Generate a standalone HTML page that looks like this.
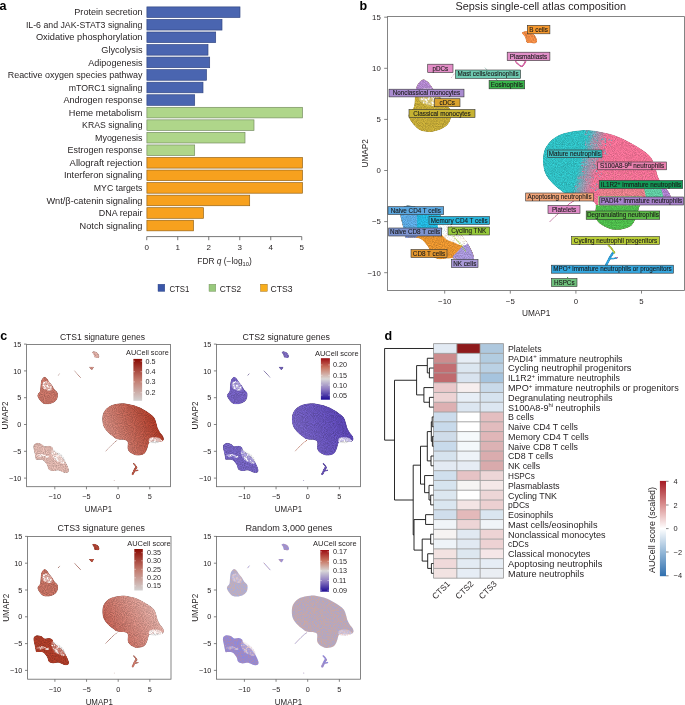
<!DOCTYPE html>
<html><head><meta charset="utf-8"><style>
html,body{margin:0;padding:0;background:#fff;}
svg{display:block;font-family:"Liberation Sans", sans-serif;will-change:transform;}
</style></head><body>
<svg width="685" height="705" viewBox="0 0 685 705">
<rect width="685" height="705" fill="#fff"/>
<defs><filter id="rbn" x="0" y="0" width="1" height="1" color-interpolation-filters="sRGB"><feTurbulence type="fractalNoise" baseFrequency="1.3" numOctaves="1" seed="9" result="n"/><feColorMatrix in="n" type="matrix" values="1.27 0 0 0 -0.134  0 0 0 0 0.25  -1.67 0 0 0 1.274  0 0 0 0 0.28" result="c"/><feComposite in="c" in2="SourceGraphic" operator="in" result="ci"/><feMerge><feMergeNode in="SourceGraphic"/><feMergeNode in="ci"/></feMerge></filter></defs>
<defs><filter id="grain" x="0" y="0" width="1" height="1" color-interpolation-filters="sRGB"><feTurbulence type="fractalNoise" baseFrequency="1.1" numOctaves="1" seed="5" result="n"/><feColorMatrix in="n" type="matrix" values="1 0 0 0 0  1 0 0 0 0  1 0 0 0 0  0 0 0 0 1" result="g"/><feComposite in="SourceGraphic" in2="g" operator="arithmetic" k1="0.55" k2="0.73" k3="0" k4="0" result="m"/><feComposite in="m" in2="SourceGraphic" operator="in"/></filter></defs>
<text x="-0.6" y="9.8" font-size="12.5" text-anchor="start" font-weight="bold" fill="#000" >a</text>
<rect x="146.9" y="6.9" width="93.1" height="10.6" fill="#4a65b0" stroke="#2f4480" stroke-width="0.65"/>
<text x="142.5" y="15.3" font-size="9" text-anchor="end" font-weight="normal" fill="#231f20" textLength="68.2" lengthAdjust="spacingAndGlyphs" >Protein secretion</text>
<rect x="146.9" y="19.45" width="75.1" height="10.6" fill="#4a65b0" stroke="#2f4480" stroke-width="0.65"/>
<text x="142.5" y="27.85" font-size="9" text-anchor="end" font-weight="normal" fill="#231f20" textLength="116.6" lengthAdjust="spacingAndGlyphs" >IL-6 and JAK-STAT3 signaling</text>
<rect x="146.9" y="32" width="68.8" height="10.6" fill="#4a65b0" stroke="#2f4480" stroke-width="0.65"/>
<text x="142.5" y="40.4" font-size="9" text-anchor="end" font-weight="normal" fill="#231f20" textLength="106.6" lengthAdjust="spacingAndGlyphs" >Oxidative phosphorylation</text>
<rect x="146.9" y="44.55" width="61.1" height="10.6" fill="#4a65b0" stroke="#2f4480" stroke-width="0.65"/>
<text x="142.5" y="52.95" font-size="9" text-anchor="end" font-weight="normal" fill="#231f20" textLength="41.2" lengthAdjust="spacingAndGlyphs" >Glycolysis</text>
<rect x="146.9" y="57.1" width="62.8" height="10.6" fill="#4a65b0" stroke="#2f4480" stroke-width="0.65"/>
<text x="142.5" y="65.5" font-size="9" text-anchor="end" font-weight="normal" fill="#231f20" textLength="54.2" lengthAdjust="spacingAndGlyphs" >Adipogenesis</text>
<rect x="146.9" y="69.65" width="59.6" height="10.6" fill="#4a65b0" stroke="#2f4480" stroke-width="0.65"/>
<text x="142.5" y="78.05" font-size="9" text-anchor="end" font-weight="normal" fill="#231f20" textLength="134.8" lengthAdjust="spacingAndGlyphs" >Reactive oxygen species pathway</text>
<rect x="146.9" y="82.2" width="56.1" height="10.6" fill="#4a65b0" stroke="#2f4480" stroke-width="0.65"/>
<text x="142.5" y="90.6" font-size="9" text-anchor="end" font-weight="normal" fill="#231f20" textLength="73.7" lengthAdjust="spacingAndGlyphs" >mTORC1 signaling</text>
<rect x="146.9" y="94.75" width="47.8" height="10.6" fill="#4a65b0" stroke="#2f4480" stroke-width="0.65"/>
<text x="142.5" y="103.15" font-size="9" text-anchor="end" font-weight="normal" fill="#231f20" textLength="79.1" lengthAdjust="spacingAndGlyphs" >Androgen response</text>
<rect x="146.9" y="107.3" width="155.6" height="10.6" fill="#afd68a" stroke="#71895c" stroke-width="0.65"/>
<text x="142.5" y="115.7" font-size="9" text-anchor="end" font-weight="normal" fill="#231f20" textLength="73.7" lengthAdjust="spacingAndGlyphs" >Heme metabolism</text>
<rect x="146.9" y="119.85" width="107.1" height="10.6" fill="#afd68a" stroke="#71895c" stroke-width="0.65"/>
<text x="142.5" y="128.25" font-size="9" text-anchor="end" font-weight="normal" fill="#231f20" textLength="60.4" lengthAdjust="spacingAndGlyphs" >KRAS signaling</text>
<rect x="146.9" y="132.4" width="98.1" height="10.6" fill="#afd68a" stroke="#71895c" stroke-width="0.65"/>
<text x="142.5" y="140.8" font-size="9" text-anchor="end" font-weight="normal" fill="#231f20" textLength="47.4" lengthAdjust="spacingAndGlyphs" >Myogenesis</text>
<rect x="146.9" y="144.95" width="47.8" height="10.6" fill="#afd68a" stroke="#71895c" stroke-width="0.65"/>
<text x="142.5" y="153.35" font-size="9" text-anchor="end" font-weight="normal" fill="#231f20" textLength="74.9" lengthAdjust="spacingAndGlyphs" >Estrogen response</text>
<rect x="146.9" y="157.5" width="155.6" height="10.6" fill="#f7a11e" stroke="#8f5e12" stroke-width="0.65"/>
<text x="142.5" y="165.9" font-size="9" text-anchor="end" font-weight="normal" fill="#231f20" textLength="72.9" lengthAdjust="spacingAndGlyphs" >Allograft rejection</text>
<rect x="146.9" y="170.05" width="155.6" height="10.6" fill="#f7a11e" stroke="#8f5e12" stroke-width="0.65"/>
<text x="142.5" y="178.45" font-size="9" text-anchor="end" font-weight="normal" fill="#231f20" textLength="78.6" lengthAdjust="spacingAndGlyphs" >Interferon signaling</text>
<rect x="146.9" y="182.6" width="155.6" height="10.6" fill="#f7a11e" stroke="#8f5e12" stroke-width="0.65"/>
<text x="142.5" y="191" font-size="9" text-anchor="end" font-weight="normal" fill="#231f20" textLength="48.7" lengthAdjust="spacingAndGlyphs" >MYC targets</text>
<rect x="146.9" y="195.15" width="102.8" height="10.6" fill="#f7a11e" stroke="#8f5e12" stroke-width="0.65"/>
<text x="142.5" y="203.55" font-size="9" text-anchor="end" font-weight="normal" fill="#231f20" textLength="96.1" lengthAdjust="spacingAndGlyphs" >Wnt/β-catenin signaling</text>
<rect x="146.9" y="207.7" width="56.6" height="10.6" fill="#f7a11e" stroke="#8f5e12" stroke-width="0.65"/>
<text x="142.5" y="216.1" font-size="9" text-anchor="end" font-weight="normal" fill="#231f20" textLength="43.7" lengthAdjust="spacingAndGlyphs" >DNA repair</text>
<rect x="146.9" y="220.25" width="46.6" height="10.6" fill="#f7a11e" stroke="#8f5e12" stroke-width="0.65"/>
<text x="142.5" y="228.65" font-size="9" text-anchor="end" font-weight="normal" fill="#231f20" textLength="62.9" lengthAdjust="spacingAndGlyphs" >Notch signaling</text>
<path d="M146.75 236.6H301.75" stroke="#555" stroke-width="0.8" fill="none"/>
<path d="M146.75 236.6V240.2" stroke="#555" stroke-width="0.8"/>
<text x="146.75" y="250.4" font-size="8" text-anchor="middle" font-weight="normal" fill="#231f20" >0</text>
<path d="M177.75 236.6V240.2" stroke="#555" stroke-width="0.8"/>
<text x="177.75" y="250.4" font-size="8" text-anchor="middle" font-weight="normal" fill="#231f20" >1</text>
<path d="M208.75 236.6V240.2" stroke="#555" stroke-width="0.8"/>
<text x="208.75" y="250.4" font-size="8" text-anchor="middle" font-weight="normal" fill="#231f20" >2</text>
<path d="M239.75 236.6V240.2" stroke="#555" stroke-width="0.8"/>
<text x="239.75" y="250.4" font-size="8" text-anchor="middle" font-weight="normal" fill="#231f20" >3</text>
<path d="M270.75 236.6V240.2" stroke="#555" stroke-width="0.8"/>
<text x="270.75" y="250.4" font-size="8" text-anchor="middle" font-weight="normal" fill="#231f20" >4</text>
<path d="M301.75 236.6V240.2" stroke="#555" stroke-width="0.8"/>
<text x="301.75" y="250.4" font-size="8" text-anchor="middle" font-weight="normal" fill="#231f20" >5</text>
<text x="197.3" y="264.2" font-size="8.2" fill="#231f20" textLength="54.5" lengthAdjust="spacingAndGlyphs">FDR <tspan font-style="italic">q</tspan> (−log<tspan font-size="5.6" dy="1.8">10</tspan><tspan dy="-1.8">)</tspan></text>
<rect x="158" y="284.2" width="6.8" height="7.2" fill="#3a56a8" stroke="#2f4480" stroke-width="0.4"/>
<text x="169.4" y="291.7" font-size="9.2" text-anchor="start" font-weight="normal" fill="#231f20" textLength="20" lengthAdjust="spacingAndGlyphs" >CTS1</text>
<rect x="209" y="284.2" width="6.8" height="7.2" fill="#98c97c" stroke="#71895c" stroke-width="0.4"/>
<text x="219.8" y="291.7" font-size="9.2" text-anchor="start" font-weight="normal" fill="#231f20" textLength="21.4" lengthAdjust="spacingAndGlyphs" >CTS2</text>
<rect x="260.5" y="284.2" width="6.8" height="7.2" fill="#f8ae1c" stroke="#8f5e12" stroke-width="0.4"/>
<text x="270.4" y="291.7" font-size="9.2" text-anchor="start" font-weight="normal" fill="#231f20" textLength="22.1" lengthAdjust="spacingAndGlyphs" >CTS3</text>
<text x="359.6" y="9.6" font-size="12.5" text-anchor="start" font-weight="bold" fill="#000" >b</text>
<text x="540.8" y="10.2" font-size="10.8" text-anchor="middle" font-weight="normal" fill="#231f20" textLength="170.5" lengthAdjust="spacingAndGlyphs" >Sepsis single-cell atlas composition</text>
<g filter="url(#grain)">
<defs><clipPath id="cbB"><path d="M581.8 130.13 C589.35 129.79 598.09 131.32 604.76 132.69 C611.43 134.05 616.03 135.75 621.82 138.31 C627.61 140.86 634.68 144.86 639.53 148.02 C644.39 151.17 648.26 153.81 650.95 157.21 C653.64 160.62 654.45 165.13 655.67 168.46 C656.89 171.78 657.03 174.25 658.29 177.14 C659.56 180.04 661.49 183.28 663.28 185.83 C665.07 188.39 667.81 190.26 669.05 192.47 C670.3 194.69 671.35 197.24 670.76 199.12 C670.17 200.99 667.98 203.12 665.51 203.72 C663.04 204.31 659.28 202.78 655.93 202.69 C652.59 202.61 648.08 202.73 645.44 203.2 C642.79 203.68 641.59 203.22 640.06 205.55 C638.53 207.89 637.98 213.68 636.25 217.21 C634.52 220.73 633.3 224.61 629.69 226.71 C626.08 228.81 619.24 230.05 614.6 229.78 C609.97 229.5 605.05 227.15 601.88 225.07 C598.71 223 596.63 220.78 595.58 217.31 C594.53 213.83 596.45 207 595.58 204.23 C594.71 201.45 592.74 201.42 590.33 200.65 C587.93 199.88 584.21 200.05 581.15 199.63 C578.09 199.2 574.7 199.12 571.96 198.09 C569.23 197.07 567.87 195.81 564.75 193.5 C561.62 191.18 556.53 187.69 553.2 184.19 C549.88 180.7 546.49 177.09 544.81 172.54 C543.12 168 542.73 161.47 543.1 156.91 C543.47 152.34 544.3 148.85 547.04 145.15 C549.77 141.46 553.71 137.23 559.5 134.73 C565.29 132.23 574.26 130.47 581.8 130.13Z"/></clipPath></defs>
<defs><linearGradient id="tpg" gradientUnits="userSpaceOnUse" x1="581.8" y1="155.0" x2="600.2" y2="160.0"><stop offset="0" stop-color="#2fbdc1"/><stop offset="0.45" stop-color="#8d9aae"/><stop offset="1" stop-color="#ee6f93"/></linearGradient></defs>
<path d="M581.8 130.13 C589.35 129.79 598.09 131.32 604.76 132.69 C611.43 134.05 616.03 135.75 621.82 138.31 C627.61 140.86 634.68 144.86 639.53 148.02 C644.39 151.17 648.26 153.81 650.95 157.21 C653.64 160.62 654.45 165.13 655.67 168.46 C656.89 171.78 657.03 174.25 658.29 177.14 C659.56 180.04 661.49 183.28 663.28 185.83 C665.07 188.39 667.81 190.26 669.05 192.47 C670.3 194.69 671.35 197.24 670.76 199.12 C670.17 200.99 667.98 203.12 665.51 203.72 C663.04 204.31 659.28 202.78 655.93 202.69 C652.59 202.61 648.08 202.73 645.44 203.2 C642.79 203.68 641.59 203.22 640.06 205.55 C638.53 207.89 637.98 213.68 636.25 217.21 C634.52 220.73 633.3 224.61 629.69 226.71 C626.08 228.81 619.24 230.05 614.6 229.78 C609.97 229.5 605.05 227.15 601.88 225.07 C598.71 223 596.63 220.78 595.58 217.31 C594.53 213.83 596.45 207 595.58 204.23 C594.71 201.45 592.74 201.42 590.33 200.65 C587.93 199.88 584.21 200.05 581.15 199.63 C578.09 199.2 574.7 199.12 571.96 198.09 C569.23 197.07 567.87 195.81 564.75 193.5 C561.62 191.18 556.53 187.69 553.2 184.19 C549.88 180.7 546.49 177.09 544.81 172.54 C543.12 168 542.73 161.47 543.1 156.91 C543.47 152.34 544.3 148.85 547.04 145.15 C549.77 141.46 553.71 137.23 559.5 134.73 C565.29 132.23 574.26 130.47 581.8 130.13Z" fill="url(#tpg)"/>
<g clip-path="url(#cbB)">
<path d="M530 180 L586 180 L582 200 L530 210Z" fill="#2fbdc1" opacity="0.0"/>
<g fill="#ee6f93" opacity="0.85"><circle cx="577.96" cy="177.04" r="0.54"/><circle cx="585.5" cy="141.99" r="0.57"/><circle cx="586.12" cy="143.47" r="0.44"/><circle cx="582.91" cy="169.32" r="0.45"/><circle cx="593.05" cy="143.19" r="0.48"/><circle cx="588.78" cy="128.52" r="0.49"/><circle cx="585.94" cy="134.57" r="0.59"/><circle cx="593.62" cy="135.24" r="0.59"/><circle cx="584.88" cy="166.85" r="0.49"/><circle cx="585.63" cy="139.83" r="0.44"/><circle cx="594.78" cy="143.38" r="0.56"/><circle cx="579.01" cy="197.69" r="0.58"/><circle cx="593.85" cy="140.88" r="0.59"/><circle cx="582.77" cy="159.4" r="0.5"/><circle cx="585.9" cy="162.37" r="0.53"/><circle cx="591.96" cy="142.43" r="0.54"/><circle cx="587.36" cy="172.07" r="0.47"/><circle cx="588.33" cy="148.69" r="0.45"/><circle cx="575.58" cy="186.21" r="0.56"/><circle cx="583" cy="176.57" r="0.55"/><circle cx="595.03" cy="138.01" r="0.45"/><circle cx="585.5" cy="144.66" r="0.59"/><circle cx="586.62" cy="179.92" r="0.44"/><circle cx="579.09" cy="188.03" r="0.57"/><circle cx="584.23" cy="169" r="0.58"/><circle cx="581.39" cy="165.54" r="0.48"/><circle cx="588.02" cy="145.03" r="0.5"/><circle cx="581.78" cy="162.55" r="0.47"/><circle cx="583.07" cy="178.54" r="0.53"/><circle cx="592.33" cy="138.97" r="0.55"/><circle cx="580.07" cy="177.56" r="0.49"/><circle cx="581.43" cy="192.66" r="0.49"/><circle cx="586.07" cy="166.65" r="0.59"/><circle cx="586.2" cy="180.36" r="0.59"/><circle cx="581.44" cy="177.76" r="0.52"/><circle cx="587.46" cy="130.72" r="0.57"/><circle cx="575.76" cy="186.26" r="0.56"/><circle cx="584.75" cy="171.98" r="0.44"/><circle cx="589.47" cy="158.76" r="0.52"/><circle cx="583.35" cy="155.71" r="0.47"/><circle cx="579.93" cy="178.11" r="0.57"/><circle cx="591.37" cy="159.74" r="0.48"/><circle cx="583.25" cy="162.02" r="0.54"/><circle cx="597.12" cy="132.32" r="0.52"/><circle cx="585.81" cy="179.07" r="0.58"/><circle cx="590.39" cy="144.15" r="0.59"/><circle cx="583.26" cy="171.49" r="0.57"/><circle cx="585.1" cy="134.01" r="0.59"/><circle cx="590.89" cy="141.23" r="0.49"/><circle cx="594.29" cy="137.35" r="0.55"/><circle cx="584.49" cy="171.66" r="0.48"/><circle cx="597.06" cy="128.54" r="0.57"/><circle cx="590.81" cy="143.78" r="0.44"/><circle cx="587.07" cy="132.99" r="0.49"/><circle cx="586.71" cy="129.64" r="0.47"/><circle cx="583.67" cy="166.84" r="0.47"/><circle cx="575.93" cy="192.58" r="0.56"/><circle cx="592.22" cy="139.93" r="0.45"/><circle cx="588.89" cy="160.86" r="0.57"/><circle cx="586.28" cy="176.17" r="0.47"/><circle cx="583.8" cy="177.12" r="0.56"/><circle cx="586.59" cy="131.8" r="0.57"/><circle cx="582.45" cy="165.41" r="0.54"/><circle cx="578.18" cy="178.51" r="0.52"/><circle cx="577.89" cy="188.97" r="0.57"/><circle cx="579.22" cy="183.55" r="0.58"/><circle cx="582.45" cy="171.41" r="0.54"/><circle cx="577.88" cy="194.88" r="0.52"/><circle cx="595.16" cy="141.31" r="0.6"/><circle cx="587.93" cy="127.95" r="0.55"/><circle cx="584.18" cy="173.42" r="0.56"/><circle cx="583.07" cy="162.23" r="0.48"/><circle cx="586.91" cy="159.95" r="0.44"/><circle cx="583.04" cy="155.13" r="0.44"/><circle cx="585.59" cy="130.07" r="0.5"/><circle cx="585.08" cy="154.82" r="0.54"/><circle cx="589.21" cy="136.82" r="0.57"/><circle cx="580.36" cy="176.49" r="0.49"/><circle cx="585.94" cy="178.77" r="0.47"/><circle cx="590.47" cy="150.8" r="0.54"/></g>
<g fill="#2fbdc1" opacity="0.85"><circle cx="605.29" cy="152.89" r="0.58"/><circle cx="596.99" cy="171.28" r="0.59"/><circle cx="606.7" cy="131.49" r="0.58"/><circle cx="603.74" cy="150.37" r="0.47"/><circle cx="596.81" cy="184.24" r="0.59"/><circle cx="605.27" cy="138.24" r="0.57"/><circle cx="605.69" cy="141.32" r="0.45"/><circle cx="602.3" cy="130.32" r="0.59"/><circle cx="601.66" cy="165.25" r="0.5"/><circle cx="596.68" cy="154.91" r="0.53"/><circle cx="596.43" cy="170.89" r="0.53"/><circle cx="599.84" cy="176.47" r="0.52"/><circle cx="597.89" cy="159.09" r="0.5"/><circle cx="601.8" cy="156.85" r="0.45"/><circle cx="611.39" cy="140.34" r="0.53"/><circle cx="597.73" cy="151.64" r="0.5"/><circle cx="605.18" cy="142.51" r="0.55"/><circle cx="601.46" cy="165.72" r="0.53"/><circle cx="605.08" cy="153.47" r="0.56"/><circle cx="601.5" cy="173.69" r="0.49"/><circle cx="593.28" cy="177.83" r="0.51"/><circle cx="595.37" cy="190.37" r="0.47"/><circle cx="600.75" cy="142.96" r="0.49"/><circle cx="601.25" cy="155.54" r="0.56"/><circle cx="605.64" cy="139.36" r="0.58"/><circle cx="605.15" cy="132.09" r="0.52"/><circle cx="604.09" cy="131.04" r="0.52"/><circle cx="589.75" cy="183.17" r="0.44"/><circle cx="610.16" cy="144.8" r="0.52"/><circle cx="605.01" cy="140.63" r="0.57"/><circle cx="598.05" cy="189.09" r="0.52"/><circle cx="592.98" cy="188.39" r="0.52"/><circle cx="605.39" cy="142.04" r="0.46"/><circle cx="594.9" cy="165.27" r="0.6"/><circle cx="592.82" cy="168.15" r="0.58"/><circle cx="603.96" cy="165.96" r="0.56"/><circle cx="609.63" cy="135.1" r="0.45"/><circle cx="593.46" cy="164.34" r="0.59"/><circle cx="605.31" cy="151.14" r="0.48"/><circle cx="597.31" cy="140.63" r="0.51"/><circle cx="599.37" cy="153.49" r="0.57"/><circle cx="596.67" cy="166.97" r="0.58"/><circle cx="590.01" cy="196.43" r="0.52"/><circle cx="594.98" cy="150.35" r="0.46"/><circle cx="590.23" cy="199.6" r="0.57"/><circle cx="603.57" cy="161.05" r="0.54"/><circle cx="590.22" cy="177.41" r="0.57"/><circle cx="605.77" cy="153.98" r="0.48"/><circle cx="592.86" cy="160.64" r="0.56"/><circle cx="594.43" cy="162.01" r="0.54"/><circle cx="604.74" cy="129.48" r="0.59"/><circle cx="603.63" cy="149.83" r="0.48"/><circle cx="597.43" cy="156.66" r="0.53"/><circle cx="593.37" cy="157.22" r="0.59"/><circle cx="595.55" cy="190.55" r="0.56"/><circle cx="594.64" cy="166.16" r="0.55"/><circle cx="595" cy="167.88" r="0.5"/><circle cx="594.69" cy="157.93" r="0.46"/><circle cx="607.41" cy="131.31" r="0.54"/><circle cx="596.7" cy="183.95" r="0.46"/><circle cx="598.31" cy="174.73" r="0.48"/><circle cx="609.22" cy="139.36" r="0.59"/><circle cx="601.71" cy="139.56" r="0.45"/><circle cx="598.27" cy="162.3" r="0.47"/><circle cx="595.35" cy="159.99" r="0.51"/><circle cx="610.47" cy="131.64" r="0.46"/><circle cx="590.75" cy="187.49" r="0.53"/><circle cx="597.39" cy="158.99" r="0.56"/><circle cx="594.78" cy="185.82" r="0.5"/><circle cx="603.01" cy="138.55" r="0.58"/><circle cx="602.45" cy="139.38" r="0.59"/><circle cx="598.72" cy="148.79" r="0.54"/><circle cx="608.83" cy="140.22" r="0.48"/><circle cx="605.06" cy="130.98" r="0.57"/><circle cx="596.89" cy="187.91" r="0.51"/><circle cx="604.78" cy="150.11" r="0.55"/><circle cx="607.31" cy="154.45" r="0.45"/><circle cx="600.72" cy="143.98" r="0.47"/><circle cx="596.76" cy="189.78" r="0.57"/><circle cx="597.8" cy="157.84" r="0.46"/><circle cx="605.44" cy="145.43" r="0.58"/><circle cx="601.04" cy="158.93" r="0.56"/><circle cx="597.62" cy="146.49" r="0.46"/><circle cx="596.37" cy="144.89" r="0.56"/><circle cx="597.87" cy="178.89" r="0.48"/><circle cx="601.16" cy="170.09" r="0.46"/><circle cx="599.45" cy="183.34" r="0.44"/><circle cx="600.6" cy="165.33" r="0.46"/><circle cx="601.85" cy="145.24" r="0.49"/><circle cx="594.91" cy="168.01" r="0.52"/></g>
<g fill="#a89a5a" opacity="0.7"><circle cx="630.63" cy="179.07" r="0.44"/><circle cx="620.01" cy="169.95" r="0.43"/><circle cx="639.12" cy="178.96" r="0.44"/><circle cx="640.86" cy="176.15" r="0.38"/><circle cx="644.38" cy="186.51" r="0.46"/><circle cx="614.12" cy="194.19" r="0.42"/><circle cx="629.19" cy="189.72" r="0.41"/><circle cx="594.17" cy="181.33" r="0.46"/><circle cx="630.52" cy="180.14" r="0.45"/><circle cx="611.29" cy="196.71" r="0.4"/><circle cx="590.8" cy="172.4" r="0.44"/><circle cx="647.09" cy="174.89" r="0.42"/><circle cx="608.77" cy="173.72" r="0.47"/><circle cx="627.53" cy="171.63" r="0.38"/><circle cx="644.43" cy="191.82" r="0.48"/><circle cx="605.14" cy="184.55" r="0.49"/><circle cx="600.04" cy="203.88" r="0.38"/><circle cx="646.29" cy="190.92" r="0.5"/><circle cx="641.93" cy="175.58" r="0.5"/><circle cx="615.14" cy="168.7" r="0.38"/><circle cx="621.55" cy="168.85" r="0.49"/><circle cx="595.45" cy="183.8" r="0.39"/><circle cx="627.14" cy="196.58" r="0.4"/><circle cx="618.37" cy="200.54" r="0.43"/><circle cx="612.68" cy="200.15" r="0.48"/><circle cx="652.45" cy="190.95" r="0.42"/><circle cx="637.9" cy="197.34" r="0.45"/><circle cx="605.17" cy="173.29" r="0.42"/><circle cx="643.56" cy="185.07" r="0.44"/><circle cx="647.51" cy="164.88" r="0.45"/><circle cx="611.94" cy="185.17" r="0.48"/><circle cx="605.88" cy="202.82" r="0.38"/><circle cx="628.47" cy="184.38" r="0.4"/><circle cx="628.38" cy="181.18" r="0.43"/><circle cx="615.16" cy="195.35" r="0.39"/><circle cx="650.45" cy="169.16" r="0.46"/><circle cx="600.47" cy="180.22" r="0.42"/><circle cx="593.89" cy="191.48" r="0.43"/><circle cx="637.61" cy="184.26" r="0.44"/><circle cx="625.88" cy="173.4" r="0.49"/><circle cx="594.22" cy="199.45" r="0.48"/><circle cx="623.84" cy="194.96" r="0.46"/><circle cx="631.57" cy="173.12" r="0.41"/><circle cx="613.16" cy="173.6" r="0.49"/><circle cx="612.57" cy="177.44" r="0.42"/><circle cx="646.79" cy="181.5" r="0.44"/><circle cx="606.39" cy="172.51" r="0.38"/><circle cx="603.64" cy="171.87" r="0.48"/><circle cx="624.18" cy="164.97" r="0.43"/><circle cx="596.71" cy="185.47" r="0.43"/><circle cx="649.8" cy="171.67" r="0.48"/><circle cx="605.83" cy="204.22" r="0.45"/><circle cx="591.07" cy="196.32" r="0.41"/><circle cx="614.08" cy="166.6" r="0.48"/><circle cx="594.51" cy="193.22" r="0.42"/><circle cx="636.92" cy="173.19" r="0.38"/><circle cx="653.89" cy="189.46" r="0.39"/><circle cx="631.99" cy="166.26" r="0.47"/><circle cx="621.76" cy="191.91" r="0.44"/><circle cx="643.49" cy="196.97" r="0.45"/><circle cx="630.58" cy="174.71" r="0.39"/><circle cx="594.66" cy="198.56" r="0.4"/><circle cx="618.71" cy="174.25" r="0.45"/><circle cx="626.4" cy="198.66" r="0.43"/><circle cx="614.06" cy="189.3" r="0.47"/><circle cx="654.63" cy="174.03" r="0.49"/><circle cx="597.3" cy="177.11" r="0.47"/><circle cx="647.83" cy="161.78" r="0.42"/><circle cx="640.14" cy="194.12" r="0.44"/><circle cx="603.16" cy="178.31" r="0.38"/><circle cx="610.73" cy="179.23" r="0.48"/><circle cx="630.43" cy="178.65" r="0.4"/><circle cx="610.7" cy="190.18" r="0.43"/><circle cx="600.46" cy="196.98" r="0.44"/><circle cx="657.66" cy="184.14" r="0.45"/><circle cx="618.79" cy="187.37" r="0.49"/><circle cx="648.49" cy="177.61" r="0.42"/><circle cx="641.32" cy="191.9" r="0.46"/><circle cx="607.65" cy="167.59" r="0.45"/><circle cx="592.58" cy="186.46" r="0.44"/><circle cx="627.06" cy="165.46" r="0.38"/><circle cx="622.07" cy="166.55" r="0.45"/><circle cx="610.29" cy="187.93" r="0.47"/><circle cx="631.66" cy="183.92" r="0.4"/><circle cx="607.34" cy="172.79" r="0.43"/><circle cx="627.31" cy="195.58" r="0.41"/><circle cx="644.91" cy="185.64" r="0.49"/><circle cx="599.02" cy="191.01" r="0.49"/><circle cx="636.03" cy="165.06" r="0.49"/><circle cx="647.56" cy="163.57" r="0.38"/></g>
<path d="M600 188 L645 188 L645 197 L600 197Z" fill="#c9a070" opacity="0.28"/>
<path d="M644 188 L662 186 L667 192 L664 198 L646 198Z" fill="#5fc9a0"/>
<path d="M661 188 L672 190 L672 209 L660 209 L664 199Z" fill="#ad7fcc"/>
<path d="M594 205 L645 205 L645 235 L594 235Z" fill="#4cb84a"/>
<path d="M598 196 L642 196 L642 206 L598 206Z" fill="#9ccf8c" opacity="0.8"/>
</g>
<defs><clipPath id="cbT"><path d="M401.14 209.03 C402.28 207.41 404.64 205.88 407.18 205.55 C409.71 205.23 413.61 206.03 416.36 207.09 C419.12 208.14 420.95 211.23 423.71 211.89 C426.46 212.56 430.22 210.73 432.89 211.07 C435.56 211.41 438.18 212.54 439.71 213.94 C441.25 215.33 440.46 217.6 442.08 219.45 C443.69 221.31 446.67 222.96 449.42 225.07 C452.18 227.19 455.57 229.11 458.61 232.13 C461.65 235.14 465.15 239.23 467.66 243.16 C470.17 247.1 472.93 252.58 473.7 255.73 C474.46 258.89 473.76 260.93 472.25 262.07 C470.74 263.21 467.68 263.16 464.64 262.58 C461.6 262 457.03 259.26 454.02 258.6 C451 257.93 449.05 258.49 446.54 258.6 C444.02 258.7 441.44 259.69 438.93 259.21 C436.41 258.73 433.22 257.71 431.45 255.73 C429.68 253.76 430.09 250.15 428.3 247.35 C426.51 244.56 423.45 240.59 420.69 238.97 C417.94 237.36 414.26 237.87 411.77 237.65 C409.28 237.42 407.02 238.57 405.73 237.65 C404.44 236.73 404.55 234.22 404.03 232.13 C403.5 230.03 403.2 227.89 402.58 225.07 C401.97 222.26 400.59 217.94 400.35 215.26 C400.11 212.59 400 210.65 401.14 209.03Z"/></clipPath></defs>
<path d="M401.14 209.03 C402.28 207.41 404.64 205.88 407.18 205.55 C409.71 205.23 413.61 206.03 416.36 207.09 C419.12 208.14 420.95 211.23 423.71 211.89 C426.46 212.56 430.22 210.73 432.89 211.07 C435.56 211.41 438.18 212.54 439.71 213.94 C441.25 215.33 440.46 217.6 442.08 219.45 C443.69 221.31 446.67 222.96 449.42 225.07 C452.18 227.19 455.57 229.11 458.61 232.13 C461.65 235.14 465.15 239.23 467.66 243.16 C470.17 247.1 472.93 252.58 473.7 255.73 C474.46 258.89 473.76 260.93 472.25 262.07 C470.74 263.21 467.68 263.16 464.64 262.58 C461.6 262 457.03 259.26 454.02 258.6 C451 257.93 449.05 258.49 446.54 258.6 C444.02 258.7 441.44 259.69 438.93 259.21 C436.41 258.73 433.22 257.71 431.45 255.73 C429.68 253.76 430.09 250.15 428.3 247.35 C426.51 244.56 423.45 240.59 420.69 238.97 C417.94 237.36 414.26 237.87 411.77 237.65 C409.28 237.42 407.02 238.57 405.73 237.65 C404.44 236.73 404.55 234.22 404.03 232.13 C403.5 230.03 403.2 227.89 402.58 225.07 C401.97 222.26 400.59 217.94 400.35 215.26 C400.11 212.59 400 210.65 401.14 209.03Z" fill="#e3912e"/>
<g clip-path="url(#cbT)">
<path d="M395 200 L418 200 L418 231 L395 231Z" fill="#5aa6dd"/>
<path d="M417 200 L445 200 L445 234 L417 234Z" fill="#22b4db"/>
<path d="M396 228 L419 230 L418 236 L413 240 L396 242Z" fill="#7b91cf"/>
<path d="M466.5 241 L480 245 L480 264 L452 264 L453 256 L459 250Z" fill="#a493d4"/>
<path d="M438.8 217.51 C440.76 216.4 446.12 218.96 449.95 221.09 C453.77 223.22 458.69 226.97 461.76 230.29 C464.82 233.61 468.1 238.46 468.32 241.02 C468.53 243.57 465.69 245.45 463.07 245.62 C460.44 245.79 455.63 243.32 452.57 242.04 C449.51 240.76 447.11 240.34 444.7 237.95 C442.29 235.57 439.12 231.14 438.14 227.73 C437.16 224.33 436.83 218.62 438.8 217.51Z" fill="#fff" opacity="0.93"/>
<path d="M452 234 L456 239 L461 245 L466 252" stroke="#9ccc4a" stroke-width="1.1" fill="none" opacity="0.9" stroke-dasharray="1.5 0.8"/>
</g>
<defs><clipPath id="cbM"><path d="M422.92 79.54 C424.82 78.96 426.57 80.65 428.3 82.2 C430.03 83.75 431.45 86.61 433.29 88.84 C435.12 91.07 437.53 93.17 439.32 95.59 C441.11 98.01 442.25 101.14 444.04 103.35 C445.84 105.57 448.88 107.05 450.08 108.87 C451.28 110.7 451.33 112.16 451.26 114.29 C451.19 116.42 451 119.35 449.69 121.65 C448.37 123.95 446.19 126.42 443.39 128.09 C440.59 129.76 436.61 131.2 432.89 131.66 C429.17 132.12 424.41 132.12 421.08 130.85 C417.76 129.57 415.03 126.33 412.95 124 C410.87 121.67 409.17 118.79 408.62 116.84 C408.07 114.9 408.79 114.02 409.67 112.35 C410.54 110.68 412.97 109.62 413.87 106.83 C414.76 104.04 414.55 99.11 415.05 95.59 C415.55 92.06 415.57 88.35 416.89 85.67 C418.2 83 421.02 80.12 422.92 79.54Z"/></clipPath></defs>
<path d="M422.92 79.54 C424.82 78.96 426.57 80.65 428.3 82.2 C430.03 83.75 431.45 86.61 433.29 88.84 C435.12 91.07 437.53 93.17 439.32 95.59 C441.11 98.01 442.25 101.14 444.04 103.35 C445.84 105.57 448.88 107.05 450.08 108.87 C451.28 110.7 451.33 112.16 451.26 114.29 C451.19 116.42 451 119.35 449.69 121.65 C448.37 123.95 446.19 126.42 443.39 128.09 C440.59 129.76 436.61 131.2 432.89 131.66 C429.17 132.12 424.41 132.12 421.08 130.85 C417.76 129.57 415.03 126.33 412.95 124 C410.87 121.67 409.17 118.79 408.62 116.84 C408.07 114.9 408.79 114.02 409.67 112.35 C410.54 110.68 412.97 109.62 413.87 106.83 C414.76 104.04 414.55 99.11 415.05 95.59 C415.55 92.06 415.57 88.35 416.89 85.67 C418.2 83 421.02 80.12 422.92 79.54Z" fill="#c1a736"/>
<g clip-path="url(#cbM)">
<path d="M405 75 L440 75 L432 92 L413 92Z" fill="#b086cc"/>
<path d="M419.77 89.76 C421.74 87.72 428.52 87.72 431.58 88.74 C434.64 89.76 436.83 93.34 438.14 95.89 C439.45 98.45 440.55 102.37 439.45 104.07 C438.36 105.77 434.86 106.62 431.58 106.11 C428.3 105.6 421.74 103.73 419.77 101 C417.8 98.28 417.8 91.81 419.77 89.76Z" fill="#fff" opacity="0.3"/>
<g fill="#fff" opacity="0.9"><circle cx="427.5" cy="94.23" r="0.66"/><circle cx="434.68" cy="103.55" r="0.9"/><circle cx="432.8" cy="103.74" r="0.82"/><circle cx="428.58" cy="98.95" r="1"/><circle cx="438.27" cy="99.11" r="0.69"/><circle cx="426.27" cy="99.77" r="0.98"/><circle cx="423.91" cy="102.35" r="0.84"/><circle cx="430.54" cy="89.54" r="0.94"/><circle cx="426.77" cy="102.57" r="0.94"/><circle cx="432.59" cy="102.32" r="0.92"/><circle cx="434.13" cy="102.75" r="0.86"/><circle cx="426.38" cy="100.31" r="0.76"/><circle cx="432.5" cy="91.59" r="0.98"/><circle cx="435.32" cy="100.79" r="0.68"/><circle cx="432.05" cy="96.63" r="0.87"/><circle cx="437.9" cy="95.67" r="0.88"/><circle cx="421.65" cy="99.18" r="0.96"/><circle cx="423.65" cy="98.21" r="0.92"/><circle cx="428.52" cy="92.41" r="0.83"/><circle cx="439.12" cy="104.04" r="0.69"/><circle cx="426.37" cy="93.72" r="0.94"/><circle cx="429.13" cy="97.46" r="0.92"/><circle cx="425.24" cy="99.64" r="0.85"/><circle cx="432.29" cy="105.45" r="0.65"/><circle cx="422.49" cy="93.52" r="0.88"/><circle cx="424.79" cy="92.81" r="0.99"/><circle cx="427.16" cy="101.21" r="0.68"/><circle cx="431.85" cy="102.53" r="0.69"/><circle cx="435.92" cy="100.92" r="0.68"/><circle cx="428.72" cy="94.04" r="0.81"/><circle cx="436.69" cy="99.14" r="0.81"/><circle cx="433.88" cy="98.1" r="0.89"/><circle cx="428.96" cy="103.79" r="0.66"/><circle cx="435.18" cy="93.17" r="0.98"/><circle cx="433.35" cy="96.04" r="0.67"/><circle cx="436.56" cy="104.05" r="0.78"/><circle cx="422.54" cy="99.5" r="0.73"/><circle cx="428.15" cy="93.76" r="0.82"/><circle cx="424.55" cy="92.58" r="0.9"/><circle cx="431.87" cy="90.56" r="0.71"/><circle cx="423.75" cy="91.97" r="0.75"/><circle cx="427.67" cy="91.91" r="0.76"/><circle cx="423.68" cy="102.39" r="0.74"/><circle cx="433.51" cy="99.72" r="0.91"/><circle cx="432.07" cy="97.78" r="0.8"/></g>
</g>
<path d="M522 32.5 C522.57 31.95 524.67 31.08 526 31 C527.33 30.92 528.72 31.45 530 32 C531.28 32.55 532.7 33.47 533.7 34.3 C534.7 35.13 535.42 35.83 536 37 C536.58 38.17 537.38 40.22 537.2 41.3 C537.02 42.38 536.1 43.22 534.9 43.5 C533.7 43.78 531.37 43.17 530 43 C528.63 42.83 527.53 43.47 526.7 42.5 C525.87 41.53 525.68 38.57 525 37.2 C524.32 35.83 523.1 35.08 522.6 34.3 C522.1 33.52 521.43 33.05 522 32.5Z" fill="#ee8a45"/>
<path d="M515.5 60.6 C515.83 59.98 518.32 60.27 520 60.3 C521.68 60.33 524.93 60.18 525.6 60.8 C526.27 61.42 524.68 63.07 524 64 C523.32 64.93 522.5 66.4 521.5 66.4 C520.5 66.4 519 64.97 518 64 C517 63.03 515.17 61.22 515.5 60.6Z" fill="none" stroke="#e060a8" stroke-width="1.6"/>
<path d="M613.03 252.77 L610.01 257.37 L608.04 261.46 L606.08 265.04" fill="none" stroke="#2fa0da" stroke-width="2.6" stroke-linecap="round" stroke-linejoin="round"/>
<path d="M609.75 258.6 L613.29 258.6 L616.83 257.88" fill="none" stroke="#2fa0da" stroke-width="1.6" stroke-linecap="round"/>
<path d="M608.31 245.11 L611.32 248.17 L614.6 252.77" fill="none" stroke="#b5c93a" stroke-width="1.8" stroke-linecap="round"/>
<circle cx="617" cy="257.5" r="0.8" fill="#e060a8"/>
<path d="M574.5 200.5 L569 204 L562 210 L555 216.5 L549.5 222" fill="none" stroke="#e060a8" stroke-width="1"/>
<path d="M484.72 67.38 L498.36 81.48" stroke="#6cc8b0" stroke-width="0.8"/>
<path d="M451.26 77.7 L455.2 72.9" stroke="#e080c0" stroke-width="0.9" stroke-dasharray="1.2 0.6" fill="none"/>
<circle cx="567.7" cy="277.5" r="0.7" fill="#4cb84a"/>
</g>
<rect x="387.5" y="16.6" width="296.9" height="273.9" fill="none" stroke="#666" stroke-width="0.8"/>
<path d="M384.2 17.2 H387.5" stroke="#666" stroke-width="0.8"/>
<text x="380.8" y="20" font-size="7.8" text-anchor="end" font-weight="normal" fill="#231f20" >15</text>
<path d="M384.2 68.3 H387.5" stroke="#666" stroke-width="0.8"/>
<text x="380.8" y="71.1" font-size="7.8" text-anchor="end" font-weight="normal" fill="#231f20" >10</text>
<path d="M384.2 119.4 H387.5" stroke="#666" stroke-width="0.8"/>
<text x="380.8" y="122.2" font-size="7.8" text-anchor="end" font-weight="normal" fill="#231f20" >5</text>
<path d="M384.2 170.5 H387.5" stroke="#666" stroke-width="0.8"/>
<text x="380.8" y="173.3" font-size="7.8" text-anchor="end" font-weight="normal" fill="#231f20" >0</text>
<path d="M384.2 221.6 H387.5" stroke="#666" stroke-width="0.8"/>
<text x="380.8" y="224.4" font-size="7.8" text-anchor="end" font-weight="normal" fill="#231f20" >−5</text>
<path d="M384.2 272.7 H387.5" stroke="#666" stroke-width="0.8"/>
<text x="380.8" y="275.5" font-size="7.8" text-anchor="end" font-weight="normal" fill="#231f20" >−10</text>
<path d="M444.7 290.5 V293.6" stroke="#666" stroke-width="0.8"/>
<text x="444.7" y="303.6" font-size="7.8" text-anchor="middle" font-weight="normal" fill="#231f20" >−10</text>
<path d="M510.3 290.5 V293.6" stroke="#666" stroke-width="0.8"/>
<text x="510.3" y="303.6" font-size="7.8" text-anchor="middle" font-weight="normal" fill="#231f20" >−5</text>
<path d="M575.9 290.5 V293.6" stroke="#666" stroke-width="0.8"/>
<text x="575.9" y="303.6" font-size="7.8" text-anchor="middle" font-weight="normal" fill="#231f20" >0</text>
<path d="M641.5 290.5 V293.6" stroke="#666" stroke-width="0.8"/>
<text x="641.5" y="303.6" font-size="7.8" text-anchor="middle" font-weight="normal" fill="#231f20" >5</text>
<text x="536.2" y="315.6" font-size="8.4" text-anchor="middle" font-weight="normal" fill="#231f20" textLength="28.5" lengthAdjust="spacingAndGlyphs" >UMAP1</text>
<text transform="translate(368.2 153.3) rotate(-90)" font-size="8.4" text-anchor="middle" fill="#231f20" textLength="28.4" lengthAdjust="spacingAndGlyphs">UMAP2</text>
<rect x="527.3" y="25.3" width="22.6" height="8.5" fill="#f6982c" stroke="#333" stroke-width="0.6"/>
<text x="538.6" y="31.75" font-size="6.3" fill="#1a1a1a" stroke="#1a1a1a" stroke-width="0.1" text-anchor="middle">B cells</text>
<rect x="507.2" y="52.2" width="42.7" height="8.4" fill="#e290c9" stroke="#333" stroke-width="0.6"/>
<text x="528.55" y="58.6" font-size="6.3" fill="#1a1a1a" stroke="#1a1a1a" stroke-width="0.1" text-anchor="middle">Plasmablasts</text>
<rect x="427.7" y="64.2" width="25.3" height="8.3" fill="#e28cc6" stroke="#333" stroke-width="0.6"/>
<text x="440.35" y="70.55" font-size="6.3" fill="#1a1a1a" stroke="#1a1a1a" stroke-width="0.1" text-anchor="middle">pDCs</text>
<rect x="455.5" y="70" width="65.1" height="8.4" fill="#6fcab1" stroke="#333" stroke-width="0.6"/>
<text x="488.05" y="76.4" font-size="6.3" fill="#1a1a1a" stroke="#1a1a1a" stroke-width="0.1" text-anchor="middle">Mast cells/eosinophils</text>
<rect x="489.1" y="80.6" width="35.6" height="8.2" fill="#38b44a" stroke="#333" stroke-width="0.6"/>
<text x="506.9" y="86.9" font-size="6.3" fill="#1a1a1a" stroke="#1a1a1a" stroke-width="0.1" text-anchor="middle">Eosinophils</text>
<rect x="389" y="89.2" width="75" height="7.7" fill="#a98bd0" stroke="#333" stroke-width="0.6"/>
<text x="426.5" y="95.25" font-size="6.3" fill="#1a1a1a" stroke="#1a1a1a" stroke-width="0.1" text-anchor="middle">Nonclassical monocytes</text>
<rect x="434.5" y="98.7" width="25.5" height="8" fill="#d9a22e" stroke="#333" stroke-width="0.6"/>
<text x="447.25" y="104.9" font-size="6.3" fill="#1a1a1a" stroke="#1a1a1a" stroke-width="0.1" text-anchor="middle">cDCs</text>
<rect x="409" y="109.5" width="66" height="8" fill="#c6b232" stroke="#333" stroke-width="0.6"/>
<text x="442" y="115.7" font-size="6.3" fill="#1a1a1a" stroke="#1a1a1a" stroke-width="0.1" text-anchor="middle">Classical monocytes</text>
<rect x="547.7" y="150" width="54.3" height="7.6" fill="#3ebfc2" stroke="#333" stroke-width="0.6"/>
<text x="574.85" y="156" font-size="6.3" fill="#1a1a1a" stroke="#1a1a1a" stroke-width="0.1" text-anchor="middle">Mature neutrophils</text>
<rect x="597.7" y="162" width="68.8" height="7.8" fill="#ec82b1" stroke="#333" stroke-width="0.6"/>
<text x="632.1" y="168.1" font-size="6.3" fill="#1a1a1a" stroke="#1a1a1a" stroke-width="0.1" text-anchor="middle">S100A8-9<tspan font-size="4.6" dy="-2.2" stroke-width="0.12">hi</tspan><tspan dy="2.2"> neutrophils</tspan></text>
<rect x="599.2" y="180.5" width="83.5" height="8" fill="#129a57" stroke="#333" stroke-width="0.6"/>
<text x="640.95" y="186.7" font-size="6.3" fill="#1a1a1a" stroke="#1a1a1a" stroke-width="0.1" text-anchor="middle">IL1R2<tspan font-size="5" dy="-2.2" stroke-width="0.12">+</tspan><tspan dy="2.2"> immature neutrophils</tspan></text>
<rect x="525.7" y="193" width="67.8" height="8" fill="#f4a77b" stroke="#333" stroke-width="0.6"/>
<text x="559.6" y="199.2" font-size="6.3" fill="#1a1a1a" stroke="#1a1a1a" stroke-width="0.1" text-anchor="middle">Apoptosing neutrophils</text>
<rect x="599.8" y="197" width="83.7" height="8" fill="#a882cc" stroke="#333" stroke-width="0.6"/>
<text x="641.65" y="203.2" font-size="6.3" fill="#1a1a1a" stroke="#1a1a1a" stroke-width="0.1" text-anchor="middle">PADI4<tspan font-size="5" dy="-2.2" stroke-width="0.12">+</tspan><tspan dy="2.2"> immature neutrophils</tspan></text>
<rect x="548" y="205.5" width="32" height="8" fill="#e08bc8" stroke="#333" stroke-width="0.6"/>
<text x="564" y="211.7" font-size="6.3" fill="#1a1a1a" stroke="#1a1a1a" stroke-width="0.1" text-anchor="middle">Platelets</text>
<rect x="586.2" y="211" width="73.5" height="8.3" fill="#5cba47" stroke="#333" stroke-width="0.6"/>
<text x="622.95" y="217.35" font-size="6.3" fill="#1a1a1a" stroke="#1a1a1a" stroke-width="0.1" text-anchor="middle">Degranulating neutrophils</text>
<rect x="571.5" y="236.5" width="88" height="8" fill="#b9cd37" stroke="#333" stroke-width="0.6"/>
<text x="615.5" y="242.7" font-size="6.3" fill="#1a1a1a" stroke="#1a1a1a" stroke-width="0.1" text-anchor="middle">Cycling neutrophil progenitors</text>
<rect x="551.5" y="265.2" width="122" height="8" fill="#35a7df" stroke="#333" stroke-width="0.6"/>
<text x="612.5" y="271.4" font-size="6.3" fill="#1a1a1a" stroke="#1a1a1a" stroke-width="0.1" text-anchor="middle">MPO<tspan font-size="5" dy="-2.2" stroke-width="0.12">+</tspan><tspan dy="2.2"> immature neutrophils or progenitors</tspan></text>
<rect x="551.5" y="278.5" width="25.5" height="8" fill="#6fc07c" stroke="#333" stroke-width="0.6"/>
<text x="564.25" y="284.7" font-size="6.3" fill="#1a1a1a" stroke="#1a1a1a" stroke-width="0.1" text-anchor="middle">HSPCs</text>
<rect x="388" y="206.7" width="55.7" height="7.8" fill="#5ca7df" stroke="#333" stroke-width="0.6"/>
<text x="415.85" y="212.8" font-size="6.3" fill="#1a1a1a" stroke="#1a1a1a" stroke-width="0.1" text-anchor="middle">Naive CD4 T cells</text>
<rect x="429" y="216.5" width="60.5" height="8" fill="#27b4db" stroke="#333" stroke-width="0.6"/>
<text x="459.25" y="222.7" font-size="6.3" fill="#1a1a1a" stroke="#1a1a1a" stroke-width="0.1" text-anchor="middle">Memory CD4 T cells</text>
<rect x="388.7" y="228" width="53" height="8" fill="#7d93cf" stroke="#333" stroke-width="0.6"/>
<text x="415.2" y="234.2" font-size="6.3" fill="#1a1a1a" stroke="#1a1a1a" stroke-width="0.1" text-anchor="middle">Naive CD8 T cells</text>
<rect x="448" y="227" width="41.5" height="8" fill="#96c93a" stroke="#333" stroke-width="0.6"/>
<text x="468.75" y="233.2" font-size="6.3" fill="#1a1a1a" stroke="#1a1a1a" stroke-width="0.1" text-anchor="middle">Cycling TNK</text>
<rect x="411" y="249.5" width="36" height="8" fill="#e3962e" stroke="#333" stroke-width="0.6"/>
<text x="429" y="255.7" font-size="6.3" fill="#1a1a1a" stroke="#1a1a1a" stroke-width="0.1" text-anchor="middle">CD8 T cells</text>
<rect x="451.5" y="259.5" width="26.5" height="8" fill="#a899d6" stroke="#333" stroke-width="0.6"/>
<text x="464.75" y="265.7" font-size="6.3" fill="#1a1a1a" stroke="#1a1a1a" stroke-width="0.1" text-anchor="middle">NK cells</text>
<text x="0.3" y="339.8" font-size="12.5" text-anchor="start" font-weight="bold" fill="#000" >c</text>
<g filter="url(#grain)">
<defs><linearGradient id="c1gb" gradientUnits="userSpaceOnUse" x1="103.54" y1="436.29" x2="159.25" y2="414.85"><stop offset="0" stop-color="#cd8e84"/><stop offset="1" stop-color="#a3301d"/></linearGradient></defs>
<path d="M120.95 403.33 C124.59 403.15 128.81 403.95 132.03 404.67 C135.24 405.38 137.46 406.28 140.25 407.62 C143.05 408.96 146.46 411.06 148.8 412.71 C151.14 414.36 153.01 415.75 154.31 417.53 C155.61 419.32 156 421.69 156.59 423.43 C157.18 425.17 157.24 426.47 157.85 427.98 C158.46 429.5 159.39 431.2 160.26 432.54 C161.12 433.88 162.44 434.86 163.04 436.02 C163.64 437.19 164.15 438.53 163.87 439.51 C163.58 440.49 162.53 441.61 161.33 441.92 C160.14 442.23 158.33 441.43 156.71 441.38 C155.1 441.34 152.93 441.4 151.65 441.65 C150.37 441.9 149.79 441.66 149.05 442.88 C148.32 444.11 148.05 447.15 147.22 449 C146.38 450.84 145.79 452.88 144.05 453.98 C142.31 455.08 139.01 455.73 136.77 455.59 C134.54 455.45 132.16 454.21 130.63 453.12 C129.1 452.03 128.1 450.87 127.59 449.05 C127.09 447.23 128.02 443.64 127.59 442.19 C127.17 440.73 126.22 440.71 125.06 440.31 C123.9 439.91 122.11 440 120.63 439.78 C119.15 439.55 117.52 439.51 116.2 438.97 C114.88 438.44 114.23 437.77 112.72 436.56 C111.21 435.35 108.75 433.51 107.15 431.68 C105.55 429.85 103.91 427.96 103.1 425.57 C102.29 423.19 102.1 419.77 102.27 417.37 C102.45 414.98 102.86 413.15 104.17 411.21 C105.49 409.27 107.39 407.05 110.19 405.74 C112.98 404.43 117.31 403.51 120.95 403.33Z" fill="url(#c1gb)"/>
<path d="M149.43 438.17 C150.38 437.44 153.07 437.26 154.81 437.26 C156.55 437.26 158.72 437.52 159.88 438.17 C161.04 438.81 162.09 440.36 161.78 441.12 C161.46 441.88 159.56 442.37 157.98 442.72 C156.4 443.08 153.76 443.44 152.28 443.26 C150.8 443.08 149.59 442.5 149.12 441.65 C148.64 440.8 148.48 438.9 149.43 438.17Z" fill="#ffffff" opacity="0.6"/>
<g fill="#fff" opacity="0.9"><circle cx="150.47" cy="439.04" r="0.62"/><circle cx="152.36" cy="438.85" r="0.62"/><circle cx="152.95" cy="439.15" r="0.49"/><circle cx="151.94" cy="437.85" r="0.47"/><circle cx="152.41" cy="438.43" r="0.61"/><circle cx="151.01" cy="439.95" r="0.63"/><circle cx="151.21" cy="439.35" r="0.34"/><circle cx="153.38" cy="442.76" r="0.39"/><circle cx="161.5" cy="440.84" r="0.8"/><circle cx="154.67" cy="439.61" r="0.73"/><circle cx="157.81" cy="442.59" r="0.59"/><circle cx="157.14" cy="442.17" r="0.33"/><circle cx="160.19" cy="440.18" r="0.38"/><circle cx="154.85" cy="441.95" r="0.7"/><circle cx="155.45" cy="442.65" r="0.71"/><circle cx="150.25" cy="441.58" r="0.29"/><circle cx="155.77" cy="442.7" r="0.53"/><circle cx="157.79" cy="440.05" r="0.52"/><circle cx="155.26" cy="440.64" r="0.59"/><circle cx="150.32" cy="440.41" r="0.4"/><circle cx="158.02" cy="439.83" r="0.29"/><circle cx="154.47" cy="441.17" r="0.58"/><circle cx="152.94" cy="442.13" r="0.61"/><circle cx="155.06" cy="441.72" r="0.48"/><circle cx="149.56" cy="441.38" r="0.79"/></g>
<path d="M44.29 376.8 C45.21 376.49 46.05 377.38 46.89 378.19 C47.72 379 48.41 380.5 49.29 381.67 C50.18 382.84 51.34 383.94 52.2 385.21 C53.07 386.48 53.62 388.12 54.48 389.28 C55.35 390.45 56.82 391.22 57.4 392.18 C57.98 393.14 58 393.9 57.96 395.02 C57.93 396.14 57.84 397.67 57.21 398.88 C56.57 400.09 55.52 401.38 54.17 402.26 C52.82 403.13 50.9 403.89 49.1 404.13 C47.31 404.37 45.01 404.37 43.41 403.7 C41.8 403.03 40.48 401.34 39.48 400.11 C38.48 398.89 37.66 397.38 37.39 396.36 C37.13 395.34 37.48 394.88 37.9 394 C38.32 393.13 39.49 392.57 39.92 391.11 C40.36 389.64 40.25 387.06 40.49 385.21 C40.74 383.36 40.75 381.41 41.38 380.01 C42.01 378.61 43.37 377.1 44.29 376.8Z" fill="#bf6f62"/>
<path d="M42.77 382.16 C43.72 381.08 46.99 381.08 48.47 381.62 C49.95 382.16 51 384.03 51.63 385.37 C52.27 386.71 52.8 388.77 52.27 389.66 C51.74 390.55 50.05 391 48.47 390.73 C46.89 390.46 43.72 389.48 42.77 388.05 C41.82 386.62 41.82 383.23 42.77 382.16Z" fill="#fff" opacity="0.35"/>
<g fill="#fff" opacity="0.9"><circle cx="47.07" cy="385.63" r="0.76"/><circle cx="47.19" cy="386.1" r="0.59"/><circle cx="44.53" cy="386.07" r="0.61"/><circle cx="50.3" cy="389.87" r="0.44"/><circle cx="43.63" cy="383.35" r="0.64"/><circle cx="48.62" cy="389.3" r="0.29"/><circle cx="47.79" cy="390.19" r="0.38"/><circle cx="47.18" cy="386.72" r="0.72"/><circle cx="47.7" cy="384.9" r="0.54"/><circle cx="49.06" cy="386.56" r="0.42"/><circle cx="45.77" cy="388.64" r="0.43"/><circle cx="43.44" cy="383.75" r="0.49"/><circle cx="50.81" cy="387.21" r="0.78"/><circle cx="44.76" cy="382.44" r="0.52"/><circle cx="43.47" cy="385" r="0.68"/><circle cx="45.93" cy="381.95" r="0.67"/><circle cx="43.89" cy="388.49" r="0.33"/><circle cx="43.34" cy="383.47" r="0.37"/><circle cx="48.08" cy="386.66" r="0.38"/><circle cx="49.72" cy="389.54" r="0.61"/><circle cx="43.88" cy="386.9" r="0.39"/><circle cx="50.4" cy="387.96" r="0.74"/><circle cx="44.77" cy="387.14" r="0.72"/><circle cx="48.87" cy="389.82" r="0.79"/><circle cx="44.8" cy="388.38" r="0.68"/><circle cx="45.9" cy="388.03" r="0.32"/><circle cx="43.63" cy="385.42" r="0.41"/><circle cx="48.48" cy="387.35" r="0.52"/><circle cx="48.23" cy="382.84" r="0.38"/><circle cx="44.24" cy="382.45" r="0.71"/></g>
<path d="M33.78 444.71 C34.33 443.86 35.47 443.05 36.7 442.88 C37.92 442.72 39.8 443.13 41.13 443.69 C42.46 444.24 43.34 445.86 44.67 446.21 C46 446.56 47.82 445.6 49.1 445.78 C50.39 445.96 51.66 446.55 52.39 447.28 C53.13 448.01 52.75 449.2 53.53 450.17 C54.31 451.15 55.75 452.01 57.08 453.12 C58.41 454.23 60.04 455.24 61.51 456.82 C62.98 458.4 64.66 460.55 65.88 462.61 C67.09 464.67 68.42 467.55 68.79 469.2 C69.16 470.86 68.82 471.93 68.09 472.53 C67.37 473.12 65.89 473.1 64.42 472.79 C62.96 472.49 60.75 471.05 59.29 470.7 C57.84 470.35 56.9 470.65 55.69 470.7 C54.47 470.76 53.23 471.27 52.01 471.02 C50.8 470.77 49.26 470.24 48.41 469.2 C47.55 468.17 47.75 466.27 46.89 464.81 C46.02 463.34 44.55 461.26 43.22 460.41 C41.89 459.56 40.11 459.83 38.91 459.72 C37.71 459.6 36.62 460.2 36 459.72 C35.38 459.23 35.43 457.92 35.18 456.82 C34.92 455.72 34.78 454.6 34.48 453.12 C34.19 451.65 33.52 449.38 33.4 447.98 C33.29 446.57 33.24 445.56 33.78 444.71Z" fill="#d7b0a8"/>
<path d="M51.95 449.16 C52.9 448.58 55.49 449.92 57.33 451.03 C59.18 452.15 61.55 454.11 63.03 455.86 C64.51 457.6 66.09 460.14 66.19 461.48 C66.3 462.82 64.93 463.81 63.66 463.9 C62.4 463.99 60.07 462.69 58.6 462.02 C57.12 461.35 55.96 461.13 54.8 459.88 C53.64 458.63 52.11 456.3 51.63 454.52 C51.16 452.73 51 449.74 51.95 449.16Z" fill="#fff" opacity="0.3"/>
<g fill="#fff" opacity="0.9"><circle cx="58.54" cy="454.2" r="0.59"/><circle cx="57.09" cy="459.86" r="0.66"/><circle cx="61.69" cy="455.03" r="0.53"/><circle cx="61.26" cy="461.75" r="0.48"/><circle cx="54" cy="450.54" r="0.29"/><circle cx="63.56" cy="462.8" r="0.6"/><circle cx="56.54" cy="457.93" r="0.67"/><circle cx="56.19" cy="454.74" r="0.34"/><circle cx="61.78" cy="463.14" r="0.35"/><circle cx="63.51" cy="457.99" r="0.47"/><circle cx="60.31" cy="456.87" r="0.45"/><circle cx="52.08" cy="453.19" r="0.73"/><circle cx="56.82" cy="458.54" r="0.6"/><circle cx="61.44" cy="462.22" r="0.38"/><circle cx="56.92" cy="456.36" r="0.66"/><circle cx="63.61" cy="457.56" r="0.52"/><circle cx="54.87" cy="457.6" r="0.45"/><circle cx="62.87" cy="462.38" r="0.53"/><circle cx="54.23" cy="453.64" r="0.28"/><circle cx="55.66" cy="458.82" r="0.57"/><circle cx="54.07" cy="450.27" r="0.44"/><circle cx="54.39" cy="452.86" r="0.71"/><circle cx="62.86" cy="458.86" r="0.38"/><circle cx="60.94" cy="460.51" r="0.52"/><circle cx="58.59" cy="454.65" r="0.39"/><circle cx="64.35" cy="459.79" r="0.72"/><circle cx="59.14" cy="453.64" r="0.61"/><circle cx="54.75" cy="459.69" r="0.39"/><circle cx="53.55" cy="450.83" r="0.47"/><circle cx="55.15" cy="457.48" r="0.74"/><circle cx="59.79" cy="454.69" r="0.71"/><circle cx="57.72" cy="455.22" r="0.7"/><circle cx="56.69" cy="458.46" r="0.62"/><circle cx="63.12" cy="458.3" r="0.31"/><circle cx="56.78" cy="459.3" r="0.72"/><circle cx="61.67" cy="455.91" r="0.57"/><circle cx="53.45" cy="456.02" r="0.6"/><circle cx="57.37" cy="460.27" r="0.46"/><circle cx="56.35" cy="453.79" r="0.33"/><circle cx="58.74" cy="457.36" r="0.35"/><circle cx="61.35" cy="458.87" r="0.38"/><circle cx="57.93" cy="460.65" r="0.71"/><circle cx="58.93" cy="453.61" r="0.34"/><circle cx="58.4" cy="454.96" r="0.67"/><circle cx="55.27" cy="457.12" r="0.68"/><circle cx="39.58" cy="454.79" r="0.6"/><circle cx="48.18" cy="456.94" r="0.37"/><circle cx="46.5" cy="457.17" r="0.52"/><circle cx="38.92" cy="456.47" r="0.47"/><circle cx="48.01" cy="455.12" r="0.27"/><circle cx="47.37" cy="456.63" r="0.68"/><circle cx="42.9" cy="454.49" r="0.54"/><circle cx="42.06" cy="456.17" r="0.47"/><circle cx="43.88" cy="454.52" r="0.33"/><circle cx="45.66" cy="455.83" r="0.35"/><circle cx="38.76" cy="455.49" r="0.39"/><circle cx="42.5" cy="455.14" r="0.46"/><circle cx="37.71" cy="455.63" r="0.38"/><circle cx="41.48" cy="454.65" r="0.72"/><circle cx="45.11" cy="457.05" r="0.46"/><circle cx="47.5" cy="456.86" r="0.68"/><circle cx="41.27" cy="454.66" r="0.33"/><circle cx="46.33" cy="456.82" r="0.56"/><circle cx="44.27" cy="455.2" r="0.44"/><circle cx="46.4" cy="456.27" r="0.41"/><circle cx="38.2" cy="454.8" r="0.32"/><circle cx="45.18" cy="455.35" r="0.53"/><circle cx="35.85" cy="453.45" r="0.32"/><circle cx="40.2" cy="456.58" r="0.55"/><circle cx="36.94" cy="455.72" r="0.44"/><circle cx="40.68" cy="455.6" r="0.74"/><circle cx="43.33" cy="455.7" r="0.59"/><circle cx="46.56" cy="456.62" r="0.6"/><circle cx="48.17" cy="456.62" r="0.55"/><circle cx="40.99" cy="456.68" r="0.4"/></g>
<path d="M92.09 352.12 C92.37 351.84 93.38 351.38 94.02 351.34 C94.67 351.29 95.34 351.57 95.95 351.86 C96.57 352.15 97.26 352.63 97.74 353.07 C98.22 353.51 98.57 353.87 98.85 354.48 C99.13 355.1 99.52 356.17 99.43 356.74 C99.34 357.31 98.9 357.74 98.32 357.89 C97.74 358.04 96.61 357.72 95.95 357.63 C95.3 357.54 94.76 357.88 94.36 357.37 C93.96 356.86 93.87 355.31 93.54 354.59 C93.21 353.87 92.63 353.48 92.38 353.07 C92.14 352.66 91.82 352.41 92.09 352.12Z" fill="#d3a59d"/>
<path d="M88.96 366.86 C89.12 366.54 90.32 366.69 91.13 366.7 C91.94 366.72 93.51 366.64 93.83 366.97 C94.15 367.29 93.39 368.16 93.06 368.64 C92.73 369.13 92.34 369.9 91.85 369.9 C91.37 369.9 90.65 369.15 90.17 368.64 C89.68 368.14 88.8 367.19 88.96 366.86Z" fill="#c98a80"/>
<path d="M136.01 467.65 L134.56 470.06 L133.61 472.2 L132.66 474.08" fill="none" stroke="#b65544" stroke-width="2.3" stroke-linecap="round" stroke-linejoin="round"/>
<path d="M134.43 470.7 L136.14 470.7 L137.85 470.33" fill="none" stroke="#b65544" stroke-width="1.5" stroke-linecap="round"/>
<path d="M133.74 463.63 L135.19 465.24 L136.77 467.65" fill="none" stroke="#b65544" stroke-width="1.5" stroke-linecap="round"/>
<path d="M117.42 440.23 L114.77 442.07 L111.39 445.22 L108.02 448.63 L105.36 451.51" fill="none" stroke="#c47a6e" stroke-width="0.8"/>
<path d="M74.11 370.42 L80.69 377.81" stroke="#cc8e84" stroke-width="0.9"/>
<path d="M57.96 375.83 L59.86 373.31" stroke="#cc8e84" stroke-width="0.8" fill="none"/>
<circle cx="114.14" cy="480.62" r="0.5" fill="#cc8e84"/>
</g>
<rect x="26.6" y="344.5" width="143.8" height="142.2" fill="none" stroke="#666" stroke-width="0.8"/>
<path d="M24 344.1 H26.6" stroke="#666" stroke-width="0.8"/>
<text x="21.4" y="346.7" font-size="7.3" text-anchor="end" font-weight="normal" fill="#231f20" >15</text>
<path d="M24 370.9 H26.6" stroke="#666" stroke-width="0.8"/>
<text x="21.4" y="373.5" font-size="7.3" text-anchor="end" font-weight="normal" fill="#231f20" >10</text>
<path d="M24 397.7 H26.6" stroke="#666" stroke-width="0.8"/>
<text x="21.4" y="400.3" font-size="7.3" text-anchor="end" font-weight="normal" fill="#231f20" >5</text>
<path d="M24 424.5 H26.6" stroke="#666" stroke-width="0.8"/>
<text x="21.4" y="427.1" font-size="7.3" text-anchor="end" font-weight="normal" fill="#231f20" >0</text>
<path d="M24 451.3 H26.6" stroke="#666" stroke-width="0.8"/>
<text x="21.4" y="453.9" font-size="7.3" text-anchor="end" font-weight="normal" fill="#231f20" >−5</text>
<path d="M24 478.1 H26.6" stroke="#666" stroke-width="0.8"/>
<text x="21.4" y="480.7" font-size="7.3" text-anchor="end" font-weight="normal" fill="#231f20" >−10</text>
<path d="M54.8 486.7 V489.3" stroke="#666" stroke-width="0.8"/>
<text x="54.8" y="499.1" font-size="7.3" text-anchor="middle" font-weight="normal" fill="#231f20" >−10</text>
<path d="M86.45 486.7 V489.3" stroke="#666" stroke-width="0.8"/>
<text x="86.45" y="499.1" font-size="7.3" text-anchor="middle" font-weight="normal" fill="#231f20" >−5</text>
<path d="M118.1 486.7 V489.3" stroke="#666" stroke-width="0.8"/>
<text x="118.1" y="499.1" font-size="7.3" text-anchor="middle" font-weight="normal" fill="#231f20" >0</text>
<path d="M149.75 486.7 V489.3" stroke="#666" stroke-width="0.8"/>
<text x="149.75" y="499.1" font-size="7.3" text-anchor="middle" font-weight="normal" fill="#231f20" >5</text>
<text x="98.5" y="512.3" font-size="8.8" text-anchor="middle" font-weight="normal" fill="#231f20" textLength="27.3" lengthAdjust="spacingAndGlyphs" >UMAP1</text>
<text transform="translate(7.8 415.6) rotate(-90)" font-size="8.8" text-anchor="middle" fill="#231f20" textLength="28" lengthAdjust="spacingAndGlyphs">UMAP2</text>
<text x="59.9" y="340.3" font-size="8.9" text-anchor="start" font-weight="normal" fill="#231f20" textLength="85.2" lengthAdjust="spacingAndGlyphs" >CTS1 signature genes</text>
<defs><linearGradient id="c1cb" gradientUnits="userSpaceOnUse" x1="0" y1="358.9" x2="0" y2="400.8"><stop offset="0" stop-color="#8a0a02"/><stop offset="0.5" stop-color="#c27a6d"/><stop offset="1" stop-color="#d4d2d2"/></linearGradient></defs>
<rect x="133.4" y="358.9" width="8.7" height="41.9" fill="url(#c1cb)"/>
<text x="126" y="354.7" font-size="7.2" text-anchor="start" font-weight="normal" fill="#231f20" textLength="42.8" lengthAdjust="spacingAndGlyphs" >AUCell score</text>
<path d="M133.4 361.2 h1.6 M142.1 361.2 h-1.6" stroke="#fff" stroke-width="0.5" opacity="0.8"/>
<text x="145.6" y="363.7" font-size="7.2" text-anchor="start" font-weight="normal" fill="#231f20" >0.5</text>
<path d="M133.4 371.7 h1.6 M142.1 371.7 h-1.6" stroke="#fff" stroke-width="0.5" opacity="0.8"/>
<text x="145.6" y="374.2" font-size="7.2" text-anchor="start" font-weight="normal" fill="#231f20" >0.4</text>
<path d="M133.4 381.9 h1.6 M142.1 381.9 h-1.6" stroke="#fff" stroke-width="0.5" opacity="0.8"/>
<text x="145.6" y="384.4" font-size="7.2" text-anchor="start" font-weight="normal" fill="#231f20" >0.3</text>
<path d="M133.4 392.7 h1.6 M142.1 392.7 h-1.6" stroke="#fff" stroke-width="0.5" opacity="0.8"/>
<text x="145.6" y="395.2" font-size="7.2" text-anchor="start" font-weight="normal" fill="#231f20" >0.2</text>
<g filter="url(#grain)">
<defs><linearGradient id="c2gb" gradientUnits="userSpaceOnUse" x1="293.14" y1="436.29" x2="348.84" y2="414.85"><stop offset="0" stop-color="#7462bc"/><stop offset="1" stop-color="#5540ad"/></linearGradient></defs>
<path d="M310.55 403.33 C314.19 403.15 318.41 403.95 321.63 404.67 C324.84 405.38 327.06 406.28 329.86 407.62 C332.65 408.96 336.06 411.06 338.4 412.71 C340.74 414.36 342.61 415.75 343.91 417.53 C345.21 419.32 345.6 421.69 346.19 423.43 C346.78 425.17 346.84 426.47 347.45 427.98 C348.06 429.5 348.99 431.2 349.86 432.54 C350.72 433.88 352.04 434.86 352.64 436.02 C353.24 437.19 353.75 438.53 353.47 439.51 C353.18 440.49 352.13 441.61 350.93 441.92 C349.74 442.23 347.93 441.43 346.31 441.38 C344.7 441.34 342.53 441.4 341.25 441.65 C339.97 441.9 339.39 441.66 338.65 442.88 C337.92 444.11 337.65 447.15 336.82 449 C335.98 450.84 335.39 452.88 333.65 453.98 C331.91 455.08 328.61 455.73 326.37 455.59 C324.14 455.45 321.76 454.21 320.23 453.12 C318.7 452.03 317.7 450.87 317.19 449.05 C316.69 447.23 317.62 443.64 317.19 442.19 C316.77 440.73 315.82 440.71 314.66 440.31 C313.5 439.91 311.71 440 310.23 439.78 C308.75 439.55 307.12 439.51 305.8 438.97 C304.48 438.44 303.83 437.77 302.32 436.56 C300.81 435.35 298.35 433.51 296.75 431.68 C295.15 429.85 293.51 427.96 292.7 425.57 C291.89 423.19 291.7 419.77 291.88 417.37 C292.05 414.98 292.46 413.15 293.77 411.21 C295.09 409.27 296.99 407.05 299.79 405.74 C302.58 404.43 306.91 403.51 310.55 403.33Z" fill="url(#c2gb)"/>
<path d="M339.03 438.17 C339.98 437.44 342.67 437.26 344.41 437.26 C346.15 437.26 348.32 437.52 349.48 438.17 C350.64 438.81 351.69 440.36 351.38 441.12 C351.06 441.88 349.16 442.37 347.58 442.72 C346 443.08 343.36 443.44 341.88 443.26 C340.4 443.08 339.19 442.5 338.72 441.65 C338.24 440.8 338.08 438.9 339.03 438.17Z" fill="#ffffff" opacity="0.6"/>
<g fill="#fff" opacity="0.9"><circle cx="340.07" cy="439.04" r="0.62"/><circle cx="341.96" cy="438.85" r="0.62"/><circle cx="342.55" cy="439.15" r="0.49"/><circle cx="341.54" cy="437.85" r="0.47"/><circle cx="342.01" cy="438.43" r="0.61"/><circle cx="340.61" cy="439.95" r="0.63"/><circle cx="340.81" cy="439.35" r="0.34"/><circle cx="342.98" cy="442.76" r="0.39"/><circle cx="351.1" cy="440.84" r="0.8"/><circle cx="344.27" cy="439.61" r="0.73"/><circle cx="347.41" cy="442.59" r="0.59"/><circle cx="346.74" cy="442.17" r="0.33"/><circle cx="349.79" cy="440.18" r="0.38"/><circle cx="344.45" cy="441.95" r="0.7"/><circle cx="345.05" cy="442.65" r="0.71"/><circle cx="339.85" cy="441.58" r="0.29"/><circle cx="345.37" cy="442.7" r="0.53"/><circle cx="347.39" cy="440.05" r="0.52"/><circle cx="344.86" cy="440.64" r="0.59"/><circle cx="339.92" cy="440.41" r="0.4"/><circle cx="347.62" cy="439.83" r="0.29"/><circle cx="344.07" cy="441.17" r="0.58"/><circle cx="342.54" cy="442.13" r="0.61"/><circle cx="344.66" cy="441.72" r="0.48"/><circle cx="339.16" cy="441.38" r="0.79"/></g>
<path d="M233.89 376.8 C234.81 376.49 235.65 377.38 236.49 378.19 C237.32 379 238.01 380.5 238.89 381.67 C239.78 382.84 240.94 383.94 241.8 385.21 C242.67 386.48 243.22 388.12 244.08 389.28 C244.95 390.45 246.42 391.22 247 392.18 C247.58 393.14 247.6 393.9 247.56 395.02 C247.53 396.14 247.44 397.67 246.81 398.88 C246.17 400.09 245.12 401.38 243.77 402.26 C242.42 403.13 240.5 403.89 238.7 404.13 C236.91 404.37 234.61 404.37 233.01 403.7 C231.4 403.03 230.08 401.34 229.08 400.11 C228.08 398.89 227.26 397.38 226.99 396.36 C226.73 395.34 227.08 394.88 227.5 394 C227.92 393.13 229.09 392.57 229.52 391.11 C229.96 389.64 229.85 387.06 230.09 385.21 C230.34 383.36 230.35 381.41 230.98 380.01 C231.61 378.61 232.97 377.1 233.89 376.8Z" fill="#705dba"/>
<path d="M232.37 382.16 C233.32 381.08 236.59 381.08 238.07 381.62 C239.55 382.16 240.6 384.03 241.23 385.37 C241.87 386.71 242.4 388.77 241.87 389.66 C241.34 390.55 239.65 391 238.07 390.73 C236.49 390.46 233.32 389.48 232.37 388.05 C231.42 386.62 231.42 383.23 232.37 382.16Z" fill="#fff" opacity="0.35"/>
<g fill="#fff" opacity="0.9"><circle cx="236.67" cy="385.63" r="0.76"/><circle cx="236.79" cy="386.1" r="0.59"/><circle cx="234.13" cy="386.07" r="0.61"/><circle cx="239.9" cy="389.87" r="0.44"/><circle cx="233.23" cy="383.35" r="0.64"/><circle cx="238.22" cy="389.3" r="0.29"/><circle cx="237.39" cy="390.19" r="0.38"/><circle cx="236.78" cy="386.72" r="0.72"/><circle cx="237.3" cy="384.9" r="0.54"/><circle cx="238.66" cy="386.56" r="0.42"/><circle cx="235.37" cy="388.64" r="0.43"/><circle cx="233.04" cy="383.75" r="0.49"/><circle cx="240.41" cy="387.21" r="0.78"/><circle cx="234.36" cy="382.44" r="0.52"/><circle cx="233.07" cy="385" r="0.68"/><circle cx="235.53" cy="381.95" r="0.67"/><circle cx="233.49" cy="388.49" r="0.33"/><circle cx="232.94" cy="383.47" r="0.37"/><circle cx="237.68" cy="386.66" r="0.38"/><circle cx="239.32" cy="389.54" r="0.61"/><circle cx="233.48" cy="386.9" r="0.39"/><circle cx="240" cy="387.96" r="0.74"/><circle cx="234.37" cy="387.14" r="0.72"/><circle cx="238.47" cy="389.82" r="0.79"/><circle cx="234.4" cy="388.38" r="0.68"/><circle cx="235.5" cy="388.03" r="0.32"/><circle cx="233.23" cy="385.42" r="0.41"/><circle cx="238.08" cy="387.35" r="0.52"/><circle cx="237.83" cy="382.84" r="0.38"/><circle cx="233.84" cy="382.45" r="0.71"/></g>
<path d="M223.38 444.71 C223.93 443.86 225.07 443.05 226.3 442.88 C227.52 442.72 229.4 443.13 230.73 443.69 C232.06 444.24 232.94 445.86 234.27 446.21 C235.6 446.56 237.42 445.6 238.7 445.78 C239.99 445.96 241.26 446.55 241.99 447.28 C242.73 448.01 242.35 449.2 243.13 450.17 C243.91 451.15 245.35 452.01 246.68 453.12 C248.01 454.23 249.64 455.24 251.11 456.82 C252.58 458.4 254.26 460.55 255.48 462.61 C256.69 464.67 258.02 467.55 258.39 469.2 C258.76 470.86 258.42 471.93 257.69 472.53 C256.97 473.12 255.49 473.1 254.02 472.79 C252.56 472.49 250.35 471.05 248.89 470.7 C247.44 470.35 246.5 470.65 245.29 470.7 C244.07 470.76 242.83 471.27 241.61 471.02 C240.4 470.77 238.86 470.24 238.01 469.2 C237.15 468.17 237.35 466.27 236.49 464.81 C235.62 463.34 234.15 461.26 232.82 460.41 C231.49 459.56 229.71 459.83 228.51 459.72 C227.31 459.6 226.22 460.2 225.6 459.72 C224.98 459.23 225.03 457.92 224.78 456.82 C224.52 455.72 224.38 454.6 224.08 453.12 C223.79 451.65 223.12 449.38 223 447.98 C222.89 446.57 222.84 445.56 223.38 444.71Z" fill="#705fba"/>
<path d="M241.55 449.16 C242.5 448.58 245.09 449.92 246.93 451.03 C248.78 452.15 251.15 454.11 252.63 455.86 C254.11 457.6 255.69 460.14 255.79 461.48 C255.9 462.82 254.53 463.81 253.26 463.9 C252 463.99 249.67 462.69 248.2 462.02 C246.72 461.35 245.56 461.13 244.4 459.88 C243.24 458.63 241.71 456.3 241.23 454.52 C240.76 452.73 240.6 449.74 241.55 449.16Z" fill="#fff" opacity="0.3"/>
<g fill="#fff" opacity="0.9"><circle cx="248.14" cy="454.2" r="0.59"/><circle cx="246.69" cy="459.86" r="0.66"/><circle cx="251.29" cy="455.03" r="0.53"/><circle cx="250.86" cy="461.75" r="0.48"/><circle cx="243.6" cy="450.54" r="0.29"/><circle cx="253.16" cy="462.8" r="0.6"/><circle cx="246.14" cy="457.93" r="0.67"/><circle cx="245.79" cy="454.74" r="0.34"/><circle cx="251.38" cy="463.14" r="0.35"/><circle cx="253.11" cy="457.99" r="0.47"/><circle cx="249.91" cy="456.87" r="0.45"/><circle cx="241.68" cy="453.19" r="0.73"/><circle cx="246.42" cy="458.54" r="0.6"/><circle cx="251.04" cy="462.22" r="0.38"/><circle cx="246.52" cy="456.36" r="0.66"/><circle cx="253.21" cy="457.56" r="0.52"/><circle cx="244.47" cy="457.6" r="0.45"/><circle cx="252.47" cy="462.38" r="0.53"/><circle cx="243.83" cy="453.64" r="0.28"/><circle cx="245.26" cy="458.82" r="0.57"/><circle cx="243.67" cy="450.27" r="0.44"/><circle cx="243.99" cy="452.86" r="0.71"/><circle cx="252.46" cy="458.86" r="0.38"/><circle cx="250.54" cy="460.51" r="0.52"/><circle cx="248.19" cy="454.65" r="0.39"/><circle cx="253.95" cy="459.79" r="0.72"/><circle cx="248.74" cy="453.64" r="0.61"/><circle cx="244.35" cy="459.69" r="0.39"/><circle cx="243.15" cy="450.83" r="0.47"/><circle cx="244.75" cy="457.48" r="0.74"/><circle cx="249.39" cy="454.69" r="0.71"/><circle cx="247.32" cy="455.22" r="0.7"/><circle cx="246.29" cy="458.46" r="0.62"/><circle cx="252.72" cy="458.3" r="0.31"/><circle cx="246.38" cy="459.3" r="0.72"/><circle cx="251.27" cy="455.91" r="0.57"/><circle cx="243.05" cy="456.02" r="0.6"/><circle cx="246.97" cy="460.27" r="0.46"/><circle cx="245.95" cy="453.79" r="0.33"/><circle cx="248.34" cy="457.36" r="0.35"/><circle cx="250.95" cy="458.87" r="0.38"/><circle cx="247.53" cy="460.65" r="0.71"/><circle cx="248.53" cy="453.61" r="0.34"/><circle cx="248" cy="454.96" r="0.67"/><circle cx="244.87" cy="457.12" r="0.68"/><circle cx="229.18" cy="454.79" r="0.6"/><circle cx="237.78" cy="456.94" r="0.37"/><circle cx="236.1" cy="457.17" r="0.52"/><circle cx="228.52" cy="456.47" r="0.47"/><circle cx="237.61" cy="455.12" r="0.27"/><circle cx="236.97" cy="456.63" r="0.68"/><circle cx="232.5" cy="454.49" r="0.54"/><circle cx="231.66" cy="456.17" r="0.47"/><circle cx="233.48" cy="454.52" r="0.33"/><circle cx="235.26" cy="455.83" r="0.35"/><circle cx="228.36" cy="455.49" r="0.39"/><circle cx="232.1" cy="455.14" r="0.46"/><circle cx="227.31" cy="455.63" r="0.38"/><circle cx="231.08" cy="454.65" r="0.72"/><circle cx="234.71" cy="457.05" r="0.46"/><circle cx="237.1" cy="456.86" r="0.68"/><circle cx="230.87" cy="454.66" r="0.33"/><circle cx="235.93" cy="456.82" r="0.56"/><circle cx="233.87" cy="455.2" r="0.44"/><circle cx="236" cy="456.27" r="0.41"/><circle cx="227.8" cy="454.8" r="0.32"/><circle cx="234.78" cy="455.35" r="0.53"/><circle cx="225.45" cy="453.45" r="0.32"/><circle cx="229.8" cy="456.58" r="0.55"/><circle cx="226.54" cy="455.72" r="0.44"/><circle cx="230.28" cy="455.6" r="0.74"/><circle cx="232.93" cy="455.7" r="0.59"/><circle cx="236.16" cy="456.62" r="0.6"/><circle cx="237.77" cy="456.62" r="0.55"/><circle cx="230.59" cy="456.68" r="0.4"/></g>
<path d="M281.69 352.12 C281.97 351.84 282.98 351.38 283.62 351.34 C284.27 351.29 284.94 351.57 285.55 351.86 C286.17 352.15 286.86 352.63 287.34 353.07 C287.82 353.51 288.17 353.87 288.45 354.48 C288.73 355.1 289.12 356.17 289.03 356.74 C288.94 357.31 288.5 357.74 287.92 357.89 C287.34 358.04 286.21 357.72 285.55 357.63 C284.9 357.54 284.36 357.88 283.96 357.37 C283.56 356.86 283.47 355.31 283.14 354.59 C282.81 353.87 282.23 353.48 281.98 353.07 C281.74 352.66 281.42 352.41 281.69 352.12Z" fill="#7a68ba"/>
<path d="M278.56 366.86 C278.72 366.54 279.92 366.69 280.73 366.7 C281.54 366.72 283.11 366.64 283.43 366.97 C283.75 367.29 282.99 368.16 282.66 368.64 C282.33 369.13 281.94 369.9 281.45 369.9 C280.97 369.9 280.25 369.15 279.77 368.64 C279.28 368.14 278.4 367.19 278.56 366.86Z" fill="#7060b5"/>
<path d="M325.61 467.65 L324.16 470.06 L323.21 472.2 L322.26 474.08" fill="none" stroke="#6550b0" stroke-width="2.3" stroke-linecap="round" stroke-linejoin="round"/>
<path d="M324.03 470.7 L325.74 470.7 L327.45 470.33" fill="none" stroke="#6550b0" stroke-width="1.5" stroke-linecap="round"/>
<path d="M323.34 463.63 L324.79 465.24 L326.37 467.65" fill="none" stroke="#6550b0" stroke-width="1.5" stroke-linecap="round"/>
<path d="M307.02 440.23 L304.37 442.07 L300.99 445.22 L297.62 448.63 L294.96 451.51" fill="none" stroke="#d25a3c" stroke-width="0.8"/>
<path d="M263.71 370.42 L270.29 377.81" stroke="#8a78c0" stroke-width="0.9"/>
<path d="M247.56 375.83 L249.46 373.31" stroke="#8a78c0" stroke-width="0.8" fill="none"/>
<circle cx="303.74" cy="480.62" r="0.5" fill="#8a78c0"/>
</g>
<rect x="216.5" y="344.5" width="144" height="142.2" fill="none" stroke="#666" stroke-width="0.8"/>
<path d="M213.9 344.1 H216.5" stroke="#666" stroke-width="0.8"/>
<text x="211.3" y="346.7" font-size="7.3" text-anchor="end" font-weight="normal" fill="#231f20" >15</text>
<path d="M213.9 370.9 H216.5" stroke="#666" stroke-width="0.8"/>
<text x="211.3" y="373.5" font-size="7.3" text-anchor="end" font-weight="normal" fill="#231f20" >10</text>
<path d="M213.9 397.7 H216.5" stroke="#666" stroke-width="0.8"/>
<text x="211.3" y="400.3" font-size="7.3" text-anchor="end" font-weight="normal" fill="#231f20" >5</text>
<path d="M213.9 424.5 H216.5" stroke="#666" stroke-width="0.8"/>
<text x="211.3" y="427.1" font-size="7.3" text-anchor="end" font-weight="normal" fill="#231f20" >0</text>
<path d="M213.9 451.3 H216.5" stroke="#666" stroke-width="0.8"/>
<text x="211.3" y="453.9" font-size="7.3" text-anchor="end" font-weight="normal" fill="#231f20" >−5</text>
<path d="M213.9 478.1 H216.5" stroke="#666" stroke-width="0.8"/>
<text x="211.3" y="480.7" font-size="7.3" text-anchor="end" font-weight="normal" fill="#231f20" >−10</text>
<path d="M244.4 486.7 V489.3" stroke="#666" stroke-width="0.8"/>
<text x="244.4" y="499.1" font-size="7.3" text-anchor="middle" font-weight="normal" fill="#231f20" >−10</text>
<path d="M276.05 486.7 V489.3" stroke="#666" stroke-width="0.8"/>
<text x="276.05" y="499.1" font-size="7.3" text-anchor="middle" font-weight="normal" fill="#231f20" >−5</text>
<path d="M307.7 486.7 V489.3" stroke="#666" stroke-width="0.8"/>
<text x="307.7" y="499.1" font-size="7.3" text-anchor="middle" font-weight="normal" fill="#231f20" >0</text>
<path d="M339.35 486.7 V489.3" stroke="#666" stroke-width="0.8"/>
<text x="339.35" y="499.1" font-size="7.3" text-anchor="middle" font-weight="normal" fill="#231f20" >5</text>
<text x="288.5" y="512.3" font-size="8.8" text-anchor="middle" font-weight="normal" fill="#231f20" textLength="27.3" lengthAdjust="spacingAndGlyphs" >UMAP1</text>
<text transform="translate(197.7 415.6) rotate(-90)" font-size="8.8" text-anchor="middle" fill="#231f20" textLength="28" lengthAdjust="spacingAndGlyphs">UMAP2</text>
<text x="242.5" y="340.3" font-size="8.9" text-anchor="start" font-weight="normal" fill="#231f20" textLength="87.5" lengthAdjust="spacingAndGlyphs" >CTS2 signature genes</text>
<defs><linearGradient id="c2cb" gradientUnits="userSpaceOnUse" x1="0" y1="358.2" x2="0" y2="399.7"><stop offset="0" stop-color="#9c0d12"/><stop offset="0.22" stop-color="#c8735f"/><stop offset="0.5" stop-color="#d9d7d7"/><stop offset="0.75" stop-color="#8c79c0"/><stop offset="1" stop-color="#1c0a94"/></linearGradient></defs>
<rect x="320.9" y="358.2" width="9" height="41.5" fill="url(#c2cb)"/>
<text x="314.9" y="355.7" font-size="7.2" text-anchor="start" font-weight="normal" fill="#231f20" textLength="43.8" lengthAdjust="spacingAndGlyphs" >AUCell score</text>
<path d="M320.9 364.9 h1.6 M329.9 364.9 h-1.6" stroke="#fff" stroke-width="0.5" opacity="0.8"/>
<text x="333" y="367.4" font-size="7.2" text-anchor="start" font-weight="normal" fill="#231f20" >0.20</text>
<path d="M320.9 375.3 h1.6 M329.9 375.3 h-1.6" stroke="#fff" stroke-width="0.5" opacity="0.8"/>
<text x="333" y="377.8" font-size="7.2" text-anchor="start" font-weight="normal" fill="#231f20" >0.15</text>
<path d="M320.9 385.1 h1.6 M329.9 385.1 h-1.6" stroke="#fff" stroke-width="0.5" opacity="0.8"/>
<text x="333" y="387.6" font-size="7.2" text-anchor="start" font-weight="normal" fill="#231f20" >0.10</text>
<path d="M320.9 395.1 h1.6 M329.9 395.1 h-1.6" stroke="#fff" stroke-width="0.5" opacity="0.8"/>
<text x="333" y="397.6" font-size="7.2" text-anchor="start" font-weight="normal" fill="#231f20" >0.05</text>
<g filter="url(#grain)">
<defs><linearGradient id="c3gb" gradientUnits="userSpaceOnUse" x1="111.87" y1="638.24" x2="162.51" y2="611.44"><stop offset="0" stop-color="#b95b4e"/><stop offset="1" stop-color="#dcb2ab"/></linearGradient></defs>
<path d="M121.05 595.63 C124.69 595.45 128.91 596.25 132.13 596.97 C135.34 597.68 137.56 598.58 140.36 599.92 C143.15 601.26 146.56 603.36 148.9 605.01 C151.24 606.66 153.11 608.05 154.41 609.83 C155.71 611.62 156.1 613.99 156.69 615.73 C157.28 617.47 157.34 618.77 157.95 620.28 C158.56 621.8 159.49 623.5 160.36 624.84 C161.22 626.18 162.54 627.16 163.14 628.32 C163.74 629.49 164.25 630.83 163.97 631.81 C163.68 632.79 162.63 633.91 161.43 634.22 C160.24 634.53 158.43 633.73 156.81 633.68 C155.2 633.64 153.03 633.7 151.75 633.95 C150.47 634.2 149.89 633.96 149.15 635.18 C148.42 636.41 148.15 639.45 147.32 641.3 C146.48 643.14 145.89 645.18 144.15 646.28 C142.41 647.38 139.11 648.03 136.87 647.89 C134.64 647.75 132.26 646.51 130.73 645.42 C129.2 644.33 128.2 643.17 127.7 641.35 C127.19 639.53 128.12 635.94 127.7 634.49 C127.27 633.03 126.32 633.01 125.16 632.61 C124 632.21 122.21 632.3 120.73 632.08 C119.25 631.85 117.62 631.81 116.3 631.27 C114.98 630.74 114.33 630.07 112.82 628.86 C111.31 627.65 108.85 625.81 107.25 623.98 C105.65 622.15 104.01 620.26 103.2 617.87 C102.39 615.49 102.2 612.07 102.38 609.67 C102.55 607.28 102.96 605.45 104.27 603.51 C105.59 601.57 107.49 599.35 110.29 598.04 C113.08 596.73 117.41 595.81 121.05 595.63Z" fill="url(#c3gb)"/>
<path d="M149.53 630.47 C150.48 629.74 153.17 629.56 154.91 629.56 C156.65 629.56 158.82 629.82 159.98 630.47 C161.14 631.11 162.19 632.66 161.88 633.42 C161.56 634.18 159.66 634.67 158.08 635.02 C156.5 635.38 153.86 635.74 152.38 635.56 C150.91 635.38 149.69 634.8 149.22 633.95 C148.74 633.1 148.58 631.2 149.53 630.47Z" fill="#ffffff" opacity="0.6"/>
<g fill="#fff" opacity="0.9"><circle cx="150.57" cy="631.34" r="0.62"/><circle cx="152.46" cy="631.15" r="0.62"/><circle cx="153.05" cy="631.45" r="0.49"/><circle cx="152.04" cy="630.15" r="0.47"/><circle cx="152.51" cy="630.73" r="0.61"/><circle cx="151.11" cy="632.25" r="0.63"/><circle cx="151.31" cy="631.65" r="0.34"/><circle cx="153.48" cy="635.06" r="0.39"/><circle cx="161.6" cy="633.14" r="0.8"/><circle cx="154.77" cy="631.91" r="0.73"/><circle cx="157.91" cy="634.89" r="0.59"/><circle cx="157.24" cy="634.47" r="0.33"/><circle cx="160.29" cy="632.48" r="0.38"/><circle cx="154.95" cy="634.25" r="0.7"/><circle cx="155.55" cy="634.95" r="0.71"/><circle cx="150.35" cy="633.88" r="0.29"/><circle cx="155.87" cy="635" r="0.53"/><circle cx="157.89" cy="632.35" r="0.52"/><circle cx="155.36" cy="632.94" r="0.59"/><circle cx="150.42" cy="632.71" r="0.4"/><circle cx="158.12" cy="632.13" r="0.29"/><circle cx="154.57" cy="633.47" r="0.58"/><circle cx="153.04" cy="634.43" r="0.61"/><circle cx="155.16" cy="634.02" r="0.48"/><circle cx="149.66" cy="633.68" r="0.79"/></g>
<path d="M44.39 569.1 C45.31 568.79 46.15 569.68 46.99 570.49 C47.82 571.3 48.51 572.8 49.39 573.97 C50.28 575.14 51.44 576.24 52.3 577.51 C53.17 578.78 53.72 580.42 54.58 581.58 C55.45 582.75 56.92 583.52 57.5 584.48 C58.08 585.44 58.1 586.2 58.07 587.32 C58.03 588.44 57.94 589.97 57.31 591.18 C56.67 592.39 55.62 593.68 54.27 594.56 C52.92 595.43 51 596.19 49.2 596.43 C47.41 596.67 45.11 596.67 43.51 596 C41.9 595.33 40.58 593.64 39.58 592.41 C38.58 591.19 37.76 589.68 37.49 588.66 C37.23 587.64 37.58 587.18 38 586.3 C38.42 585.43 39.59 584.87 40.02 583.41 C40.46 581.94 40.35 579.36 40.59 577.51 C40.84 575.66 40.85 573.71 41.48 572.31 C42.11 570.91 43.47 569.4 44.39 569.1Z" fill="#bc6c5e"/>
<path d="M42.87 574.46 C43.82 573.38 47.09 573.38 48.57 573.92 C50.05 574.46 51.1 576.33 51.73 577.67 C52.37 579.01 52.9 581.07 52.37 581.96 C51.84 582.85 50.15 583.3 48.57 583.03 C46.99 582.76 43.82 581.78 42.87 580.35 C41.92 578.92 41.92 575.53 42.87 574.46Z" fill="#fff" opacity="0.35"/>
<g fill="#fff" opacity="0.9"><circle cx="47.17" cy="577.93" r="0.76"/><circle cx="47.29" cy="578.4" r="0.59"/><circle cx="44.63" cy="578.37" r="0.61"/><circle cx="50.4" cy="582.17" r="0.44"/><circle cx="43.73" cy="575.65" r="0.64"/><circle cx="48.72" cy="581.6" r="0.29"/><circle cx="47.89" cy="582.49" r="0.38"/><circle cx="47.28" cy="579.02" r="0.72"/><circle cx="47.8" cy="577.2" r="0.54"/><circle cx="49.16" cy="578.86" r="0.42"/><circle cx="45.87" cy="580.94" r="0.43"/><circle cx="43.54" cy="576.05" r="0.49"/><circle cx="50.91" cy="579.51" r="0.78"/><circle cx="44.86" cy="574.74" r="0.52"/><circle cx="43.57" cy="577.3" r="0.68"/><circle cx="46.03" cy="574.25" r="0.67"/><circle cx="43.99" cy="580.79" r="0.33"/><circle cx="43.44" cy="575.77" r="0.37"/><circle cx="48.18" cy="578.96" r="0.38"/><circle cx="49.82" cy="581.84" r="0.61"/><circle cx="43.98" cy="579.2" r="0.39"/><circle cx="50.5" cy="580.26" r="0.74"/><circle cx="44.87" cy="579.44" r="0.72"/><circle cx="48.97" cy="582.12" r="0.79"/><circle cx="44.9" cy="580.68" r="0.68"/><circle cx="46" cy="580.33" r="0.32"/><circle cx="43.73" cy="577.72" r="0.41"/><circle cx="48.58" cy="579.65" r="0.52"/><circle cx="48.33" cy="575.14" r="0.38"/><circle cx="44.34" cy="574.75" r="0.71"/></g>
<path d="M33.88 637.01 C34.43 636.16 35.57 635.35 36.8 635.18 C38.02 635.02 39.9 635.43 41.23 635.99 C42.56 636.54 43.44 638.16 44.77 638.51 C46.1 638.86 47.92 637.9 49.2 638.08 C50.49 638.26 51.76 638.85 52.49 639.58 C53.23 640.31 52.85 641.5 53.63 642.47 C54.41 643.45 55.85 644.31 57.18 645.42 C58.51 646.53 60.14 647.54 61.61 649.12 C63.08 650.7 64.76 652.85 65.98 654.91 C67.19 656.97 68.52 659.85 68.89 661.5 C69.26 663.16 68.92 664.23 68.19 664.83 C67.47 665.42 65.99 665.4 64.52 665.09 C63.06 664.79 60.85 663.35 59.39 663 C57.94 662.65 57 662.95 55.79 663 C54.57 663.06 53.33 663.57 52.11 663.32 C50.9 663.07 49.36 662.54 48.51 661.5 C47.65 660.47 47.85 658.57 46.99 657.11 C46.12 655.64 44.65 653.56 43.32 652.71 C41.99 651.86 40.21 652.13 39.01 652.02 C37.81 651.9 36.72 652.5 36.1 652.02 C35.48 651.53 35.53 650.22 35.28 649.12 C35.02 648.02 34.88 646.9 34.58 645.42 C34.29 643.95 33.62 641.68 33.5 640.28 C33.39 638.87 33.34 637.86 33.88 637.01Z" fill="#a63a27"/>
<path d="M52.05 641.46 C53 640.88 55.59 642.22 57.43 643.33 C59.28 644.45 61.65 646.41 63.13 648.16 C64.61 649.9 66.19 652.44 66.29 653.78 C66.4 655.12 65.03 656.11 63.76 656.2 C62.5 656.29 60.17 654.99 58.7 654.32 C57.22 653.65 56.06 653.43 54.9 652.18 C53.74 650.93 52.21 648.6 51.73 646.82 C51.26 645.03 51.1 642.04 52.05 641.46Z" fill="#fff" opacity="0.3"/>
<g fill="#fff" opacity="0.9"><circle cx="58.64" cy="646.5" r="0.59"/><circle cx="57.19" cy="652.16" r="0.66"/><circle cx="61.79" cy="647.33" r="0.53"/><circle cx="61.36" cy="654.05" r="0.48"/><circle cx="54.1" cy="642.84" r="0.29"/><circle cx="63.66" cy="655.1" r="0.6"/><circle cx="56.64" cy="650.23" r="0.67"/><circle cx="56.29" cy="647.04" r="0.34"/><circle cx="61.88" cy="655.44" r="0.35"/><circle cx="63.61" cy="650.29" r="0.47"/><circle cx="60.41" cy="649.17" r="0.45"/><circle cx="52.18" cy="645.49" r="0.73"/><circle cx="56.92" cy="650.84" r="0.6"/><circle cx="61.54" cy="654.52" r="0.38"/><circle cx="57.02" cy="648.66" r="0.66"/><circle cx="63.71" cy="649.86" r="0.52"/><circle cx="54.97" cy="649.9" r="0.45"/><circle cx="62.97" cy="654.68" r="0.53"/><circle cx="54.33" cy="645.94" r="0.28"/><circle cx="55.76" cy="651.12" r="0.57"/><circle cx="54.17" cy="642.57" r="0.44"/><circle cx="54.49" cy="645.16" r="0.71"/><circle cx="62.96" cy="651.16" r="0.38"/><circle cx="61.04" cy="652.81" r="0.52"/><circle cx="58.69" cy="646.95" r="0.39"/><circle cx="64.45" cy="652.09" r="0.72"/><circle cx="59.24" cy="645.94" r="0.61"/><circle cx="54.85" cy="651.99" r="0.39"/><circle cx="53.65" cy="643.13" r="0.47"/><circle cx="55.25" cy="649.78" r="0.74"/><circle cx="59.89" cy="646.99" r="0.71"/><circle cx="57.82" cy="647.52" r="0.7"/><circle cx="56.79" cy="650.76" r="0.62"/><circle cx="63.22" cy="650.6" r="0.31"/><circle cx="56.88" cy="651.6" r="0.72"/><circle cx="61.77" cy="648.21" r="0.57"/><circle cx="53.55" cy="648.32" r="0.6"/><circle cx="57.47" cy="652.57" r="0.46"/><circle cx="56.45" cy="646.09" r="0.33"/><circle cx="58.84" cy="649.66" r="0.35"/><circle cx="61.45" cy="651.17" r="0.38"/><circle cx="58.03" cy="652.95" r="0.71"/><circle cx="59.03" cy="645.91" r="0.34"/><circle cx="58.5" cy="647.26" r="0.67"/><circle cx="55.37" cy="649.42" r="0.68"/><circle cx="39.68" cy="647.09" r="0.6"/><circle cx="48.28" cy="649.24" r="0.37"/><circle cx="46.6" cy="649.47" r="0.52"/><circle cx="39.02" cy="648.77" r="0.47"/><circle cx="48.11" cy="647.42" r="0.27"/><circle cx="47.47" cy="648.93" r="0.68"/><circle cx="43" cy="646.79" r="0.54"/><circle cx="42.16" cy="648.47" r="0.47"/><circle cx="43.98" cy="646.82" r="0.33"/><circle cx="45.76" cy="648.13" r="0.35"/><circle cx="38.86" cy="647.79" r="0.39"/><circle cx="42.6" cy="647.44" r="0.46"/><circle cx="37.81" cy="647.93" r="0.38"/><circle cx="41.58" cy="646.95" r="0.72"/><circle cx="45.21" cy="649.35" r="0.46"/><circle cx="47.6" cy="649.16" r="0.68"/><circle cx="41.37" cy="646.96" r="0.33"/><circle cx="46.43" cy="649.12" r="0.56"/><circle cx="44.37" cy="647.5" r="0.44"/><circle cx="46.5" cy="648.57" r="0.41"/><circle cx="38.3" cy="647.1" r="0.32"/><circle cx="45.28" cy="647.65" r="0.53"/><circle cx="35.95" cy="645.75" r="0.32"/><circle cx="40.3" cy="648.88" r="0.55"/><circle cx="37.04" cy="648.02" r="0.44"/><circle cx="40.78" cy="647.9" r="0.74"/><circle cx="43.43" cy="648" r="0.59"/><circle cx="46.66" cy="648.92" r="0.6"/><circle cx="48.27" cy="648.92" r="0.55"/><circle cx="41.09" cy="648.98" r="0.4"/></g>
<path d="M92.19 544.42 C92.47 544.14 93.48 543.68 94.12 543.64 C94.77 543.59 95.44 543.87 96.05 544.16 C96.67 544.45 97.36 544.93 97.84 545.37 C98.32 545.81 98.67 546.17 98.95 546.78 C99.23 547.4 99.62 548.47 99.53 549.04 C99.44 549.61 99 550.04 98.42 550.19 C97.84 550.34 96.71 550.02 96.05 549.93 C95.4 549.84 94.86 550.18 94.46 549.67 C94.06 549.16 93.97 547.61 93.64 546.89 C93.31 546.17 92.73 545.78 92.48 545.37 C92.24 544.96 91.92 544.71 92.19 544.42Z" fill="#a84232"/>
<path d="M89.06 559.16 C89.22 558.84 90.42 558.99 91.23 559 C92.04 559.02 93.61 558.94 93.93 559.27 C94.25 559.59 93.49 560.46 93.16 560.94 C92.83 561.43 92.44 562.2 91.95 562.2 C91.47 562.2 90.75 561.45 90.27 560.94 C89.78 560.44 88.9 559.49 89.06 559.16Z" fill="#b24c3a"/>
<path d="M136.11 659.95 L134.66 662.36 L133.71 664.5 L132.76 666.38" fill="none" stroke="#c47466" stroke-width="2.3" stroke-linecap="round" stroke-linejoin="round"/>
<path d="M134.53 663 L136.24 663 L137.95 662.63" fill="none" stroke="#c47466" stroke-width="1.5" stroke-linecap="round"/>
<path d="M133.84 655.93 L135.29 657.54 L136.87 659.95" fill="none" stroke="#c47466" stroke-width="1.5" stroke-linecap="round"/>
<path d="M117.52 632.53 L114.87 634.37 L111.49 637.52 L108.12 640.93 L105.46 643.81" fill="none" stroke="#c88073" stroke-width="0.8"/>
<path d="M74.21 562.72 L80.79 570.11" stroke="#c37c70" stroke-width="0.9"/>
<path d="M58.07 568.13 L59.96 565.61" stroke="#c37c70" stroke-width="0.8" fill="none"/>
<circle cx="114.24" cy="672.92" r="0.5" fill="#c37c70"/>
</g>
<rect x="27.6" y="536.5" width="143.4" height="142.7" fill="none" stroke="#666" stroke-width="0.8"/>
<path d="M25 536.4 H27.6" stroke="#666" stroke-width="0.8"/>
<text x="22.4" y="539" font-size="7.3" text-anchor="end" font-weight="normal" fill="#231f20" >15</text>
<path d="M25 563.2 H27.6" stroke="#666" stroke-width="0.8"/>
<text x="22.4" y="565.8" font-size="7.3" text-anchor="end" font-weight="normal" fill="#231f20" >10</text>
<path d="M25 590 H27.6" stroke="#666" stroke-width="0.8"/>
<text x="22.4" y="592.6" font-size="7.3" text-anchor="end" font-weight="normal" fill="#231f20" >5</text>
<path d="M25 616.8 H27.6" stroke="#666" stroke-width="0.8"/>
<text x="22.4" y="619.4" font-size="7.3" text-anchor="end" font-weight="normal" fill="#231f20" >0</text>
<path d="M25 643.6 H27.6" stroke="#666" stroke-width="0.8"/>
<text x="22.4" y="646.2" font-size="7.3" text-anchor="end" font-weight="normal" fill="#231f20" >−5</text>
<path d="M25 670.4 H27.6" stroke="#666" stroke-width="0.8"/>
<text x="22.4" y="673" font-size="7.3" text-anchor="end" font-weight="normal" fill="#231f20" >−10</text>
<path d="M54.9 679.2 V681.8" stroke="#666" stroke-width="0.8"/>
<text x="54.9" y="691.6" font-size="7.3" text-anchor="middle" font-weight="normal" fill="#231f20" >−10</text>
<path d="M86.55 679.2 V681.8" stroke="#666" stroke-width="0.8"/>
<text x="86.55" y="691.6" font-size="7.3" text-anchor="middle" font-weight="normal" fill="#231f20" >−5</text>
<path d="M118.2 679.2 V681.8" stroke="#666" stroke-width="0.8"/>
<text x="118.2" y="691.6" font-size="7.3" text-anchor="middle" font-weight="normal" fill="#231f20" >0</text>
<path d="M149.85 679.2 V681.8" stroke="#666" stroke-width="0.8"/>
<text x="149.85" y="691.6" font-size="7.3" text-anchor="middle" font-weight="normal" fill="#231f20" >5</text>
<text x="99.3" y="704.8" font-size="8.8" text-anchor="middle" font-weight="normal" fill="#231f20" textLength="27.3" lengthAdjust="spacingAndGlyphs" >UMAP1</text>
<text transform="translate(8.8 607.85) rotate(-90)" font-size="8.8" text-anchor="middle" fill="#231f20" textLength="28" lengthAdjust="spacingAndGlyphs">UMAP2</text>
<text x="57.5" y="530.8" font-size="8.9" text-anchor="start" font-weight="normal" fill="#231f20" textLength="87.5" lengthAdjust="spacingAndGlyphs" >CTS3 signature genes</text>
<defs><linearGradient id="c3cb" gradientUnits="userSpaceOnUse" x1="0" y1="549" x2="0" y2="590.5"><stop offset="0" stop-color="#8a0a02"/><stop offset="0.5" stop-color="#c27a6d"/><stop offset="1" stop-color="#d4d2d2"/></linearGradient></defs>
<rect x="134.3" y="549" width="8.5" height="41.5" fill="url(#c3cb)"/>
<text x="127.2" y="546.3" font-size="7.2" text-anchor="start" font-weight="normal" fill="#231f20" textLength="43.5" lengthAdjust="spacingAndGlyphs" >AUCell score</text>
<path d="M134.3 552.7 h1.6 M142.8 552.7 h-1.6" stroke="#fff" stroke-width="0.5" opacity="0.8"/>
<text x="146.9" y="555.2" font-size="7.2" text-anchor="start" font-weight="normal" fill="#231f20" >0.35</text>
<path d="M134.3 560.8 h1.6 M142.8 560.8 h-1.6" stroke="#fff" stroke-width="0.5" opacity="0.8"/>
<text x="146.9" y="563.3" font-size="7.2" text-anchor="start" font-weight="normal" fill="#231f20" >0.30</text>
<path d="M134.3 569.3 h1.6 M142.8 569.3 h-1.6" stroke="#fff" stroke-width="0.5" opacity="0.8"/>
<text x="146.9" y="571.8" font-size="7.2" text-anchor="start" font-weight="normal" fill="#231f20" >0.25</text>
<path d="M134.3 577.8 h1.6 M142.8 577.8 h-1.6" stroke="#fff" stroke-width="0.5" opacity="0.8"/>
<text x="146.9" y="580.3" font-size="7.2" text-anchor="start" font-weight="normal" fill="#231f20" >0.20</text>
<path d="M134.3 585.9 h1.6 M142.8 585.9 h-1.6" stroke="#fff" stroke-width="0.5" opacity="0.8"/>
<text x="146.9" y="588.4" font-size="7.2" text-anchor="start" font-weight="normal" fill="#231f20" >0.15</text>
<g filter="url(#rbn)">
<defs><linearGradient id="c4gb" gradientUnits="userSpaceOnUse" x1="293.14" y1="628.59" x2="348.84" y2="607.15"><stop offset="0" stop-color="#d4cfd0"/><stop offset="1" stop-color="#d0cfd4"/></linearGradient></defs>
<path d="M310.55 595.63 C314.19 595.45 318.41 596.25 321.63 596.97 C324.84 597.68 327.06 598.58 329.86 599.92 C332.65 601.26 336.06 603.36 338.4 605.01 C340.74 606.66 342.61 608.05 343.91 609.83 C345.21 611.62 345.6 613.99 346.19 615.73 C346.78 617.47 346.84 618.77 347.45 620.28 C348.06 621.8 348.99 623.5 349.86 624.84 C350.72 626.18 352.04 627.16 352.64 628.32 C353.24 629.49 353.75 630.83 353.47 631.81 C353.18 632.79 352.13 633.91 350.93 634.22 C349.74 634.53 347.93 633.73 346.31 633.68 C344.7 633.64 342.53 633.7 341.25 633.95 C339.97 634.2 339.39 633.96 338.65 635.18 C337.92 636.41 337.65 639.45 336.82 641.3 C335.98 643.14 335.39 645.18 333.65 646.28 C331.91 647.38 328.61 648.03 326.37 647.89 C324.14 647.75 321.76 646.51 320.23 645.42 C318.7 644.33 317.7 643.17 317.19 641.35 C316.69 639.53 317.62 635.94 317.19 634.49 C316.77 633.03 315.82 633.01 314.66 632.61 C313.5 632.21 311.71 632.3 310.23 632.08 C308.75 631.85 307.12 631.81 305.8 631.27 C304.48 630.74 303.83 630.07 302.32 628.86 C300.81 627.65 298.35 625.81 296.75 623.98 C295.15 622.15 293.51 620.26 292.7 617.87 C291.89 615.49 291.7 612.07 291.88 609.67 C292.05 607.28 292.46 605.45 293.77 603.51 C295.09 601.57 296.99 599.35 299.79 598.04 C302.58 596.73 306.91 595.81 310.55 595.63Z" fill="url(#c4gb)"/>
<path d="M339.03 630.47 C339.98 629.74 342.67 629.56 344.41 629.56 C346.15 629.56 348.32 629.82 349.48 630.47 C350.64 631.11 351.69 632.66 351.38 633.42 C351.06 634.18 349.16 634.67 347.58 635.02 C346 635.38 343.36 635.74 341.88 635.56 C340.4 635.38 339.19 634.8 338.72 633.95 C338.24 633.1 338.08 631.2 339.03 630.47Z" fill="#ffffff" opacity="0.6"/>
<g fill="#fff" opacity="0.9"><circle cx="340.07" cy="631.34" r="0.62"/><circle cx="341.96" cy="631.15" r="0.62"/><circle cx="342.55" cy="631.45" r="0.49"/><circle cx="341.54" cy="630.15" r="0.47"/><circle cx="342.01" cy="630.73" r="0.61"/><circle cx="340.61" cy="632.25" r="0.63"/><circle cx="340.81" cy="631.65" r="0.34"/><circle cx="342.98" cy="635.06" r="0.39"/><circle cx="351.1" cy="633.14" r="0.8"/><circle cx="344.27" cy="631.91" r="0.73"/><circle cx="347.41" cy="634.89" r="0.59"/><circle cx="346.74" cy="634.47" r="0.33"/><circle cx="349.79" cy="632.48" r="0.38"/><circle cx="344.45" cy="634.25" r="0.7"/><circle cx="345.05" cy="634.95" r="0.71"/><circle cx="339.85" cy="633.88" r="0.29"/><circle cx="345.37" cy="635" r="0.53"/><circle cx="347.39" cy="632.35" r="0.52"/><circle cx="344.86" cy="632.94" r="0.59"/><circle cx="339.92" cy="632.71" r="0.4"/><circle cx="347.62" cy="632.13" r="0.29"/><circle cx="344.07" cy="633.47" r="0.58"/><circle cx="342.54" cy="634.43" r="0.61"/><circle cx="344.66" cy="634.02" r="0.48"/><circle cx="339.16" cy="633.68" r="0.79"/></g>
<path d="M233.89 569.1 C234.81 568.79 235.65 569.68 236.49 570.49 C237.32 571.3 238.01 572.8 238.89 573.97 C239.78 575.14 240.94 576.24 241.8 577.51 C242.67 578.78 243.22 580.42 244.08 581.58 C244.95 582.75 246.42 583.52 247 584.48 C247.58 585.44 247.6 586.2 247.56 587.32 C247.53 588.44 247.44 589.97 246.81 591.18 C246.17 592.39 245.12 593.68 243.77 594.56 C242.42 595.43 240.5 596.19 238.7 596.43 C236.91 596.67 234.61 596.67 233.01 596 C231.4 595.33 230.08 593.64 229.08 592.41 C228.08 591.19 227.26 589.68 226.99 588.66 C226.73 587.64 227.08 587.18 227.5 586.3 C227.92 585.43 229.09 584.87 229.52 583.41 C229.96 581.94 229.85 579.36 230.09 577.51 C230.34 575.66 230.35 573.71 230.98 572.31 C231.61 570.91 232.97 569.4 233.89 569.1Z" fill="#ced7e7"/>
<path d="M232.37 574.46 C233.32 573.38 236.59 573.38 238.07 573.92 C239.55 574.46 240.6 576.33 241.23 577.67 C241.87 579.01 242.4 581.07 241.87 581.96 C241.34 582.85 239.65 583.3 238.07 583.03 C236.49 582.76 233.32 581.78 232.37 580.35 C231.42 578.92 231.42 575.53 232.37 574.46Z" fill="#fff" opacity="0.35"/>
<g fill="#fff" opacity="0.9"><circle cx="236.67" cy="577.93" r="0.76"/><circle cx="236.79" cy="578.4" r="0.59"/><circle cx="234.13" cy="578.37" r="0.61"/><circle cx="239.9" cy="582.17" r="0.44"/><circle cx="233.23" cy="575.65" r="0.64"/><circle cx="238.22" cy="581.6" r="0.29"/><circle cx="237.39" cy="582.49" r="0.38"/><circle cx="236.78" cy="579.02" r="0.72"/><circle cx="237.3" cy="577.2" r="0.54"/><circle cx="238.66" cy="578.86" r="0.42"/><circle cx="235.37" cy="580.94" r="0.43"/><circle cx="233.04" cy="576.05" r="0.49"/><circle cx="240.41" cy="579.51" r="0.78"/><circle cx="234.36" cy="574.74" r="0.52"/><circle cx="233.07" cy="577.3" r="0.68"/><circle cx="235.53" cy="574.25" r="0.67"/><circle cx="233.49" cy="580.79" r="0.33"/><circle cx="232.94" cy="575.77" r="0.37"/><circle cx="237.68" cy="578.96" r="0.38"/><circle cx="239.32" cy="581.84" r="0.61"/><circle cx="233.48" cy="579.2" r="0.39"/><circle cx="240" cy="580.26" r="0.74"/><circle cx="234.37" cy="579.44" r="0.72"/><circle cx="238.47" cy="582.12" r="0.79"/><circle cx="234.4" cy="580.68" r="0.68"/><circle cx="235.5" cy="580.33" r="0.32"/><circle cx="233.23" cy="577.72" r="0.41"/><circle cx="238.08" cy="579.65" r="0.52"/><circle cx="237.83" cy="575.14" r="0.38"/><circle cx="233.84" cy="574.75" r="0.71"/></g>
<path d="M223.38 637.01 C223.93 636.16 225.07 635.35 226.3 635.18 C227.52 635.02 229.4 635.43 230.73 635.99 C232.06 636.54 232.94 638.16 234.27 638.51 C235.6 638.86 237.42 637.9 238.7 638.08 C239.99 638.26 241.26 638.85 241.99 639.58 C242.73 640.31 242.35 641.5 243.13 642.47 C243.91 643.45 245.35 644.31 246.68 645.42 C248.01 646.53 249.64 647.54 251.11 649.12 C252.58 650.7 254.26 652.85 255.48 654.91 C256.69 656.97 258.02 659.85 258.39 661.5 C258.76 663.16 258.42 664.23 257.69 664.83 C256.97 665.42 255.49 665.4 254.02 665.09 C252.56 664.79 250.35 663.35 248.89 663 C247.44 662.65 246.5 662.95 245.29 663 C244.07 663.06 242.83 663.57 241.61 663.32 C240.4 663.07 238.86 662.54 238.01 661.5 C237.15 660.47 237.35 658.57 236.49 657.11 C235.62 655.64 234.15 653.56 232.82 652.71 C231.49 651.86 229.71 652.13 228.51 652.02 C227.31 651.9 226.22 652.5 225.6 652.02 C224.98 651.53 225.03 650.22 224.78 649.12 C224.52 648.02 224.38 646.9 224.08 645.42 C223.79 643.95 223.12 641.68 223 640.28 C222.89 638.87 222.84 637.86 223.38 637.01Z" fill="#a4a6ee"/>
<path d="M241.55 641.46 C242.5 640.88 245.09 642.22 246.93 643.33 C248.78 644.45 251.15 646.41 252.63 648.16 C254.11 649.9 255.69 652.44 255.79 653.78 C255.9 655.12 254.53 656.11 253.26 656.2 C252 656.29 249.67 654.99 248.2 654.32 C246.72 653.65 245.56 653.43 244.4 652.18 C243.24 650.93 241.71 648.6 241.23 646.82 C240.76 645.03 240.6 642.04 241.55 641.46Z" fill="#fff" opacity="0.3"/>
<g fill="#fff" opacity="0.9"><circle cx="248.14" cy="646.5" r="0.59"/><circle cx="246.69" cy="652.16" r="0.66"/><circle cx="251.29" cy="647.33" r="0.53"/><circle cx="250.86" cy="654.05" r="0.48"/><circle cx="243.6" cy="642.84" r="0.29"/><circle cx="253.16" cy="655.1" r="0.6"/><circle cx="246.14" cy="650.23" r="0.67"/><circle cx="245.79" cy="647.04" r="0.34"/><circle cx="251.38" cy="655.44" r="0.35"/><circle cx="253.11" cy="650.29" r="0.47"/><circle cx="249.91" cy="649.17" r="0.45"/><circle cx="241.68" cy="645.49" r="0.73"/><circle cx="246.42" cy="650.84" r="0.6"/><circle cx="251.04" cy="654.52" r="0.38"/><circle cx="246.52" cy="648.66" r="0.66"/><circle cx="253.21" cy="649.86" r="0.52"/><circle cx="244.47" cy="649.9" r="0.45"/><circle cx="252.47" cy="654.68" r="0.53"/><circle cx="243.83" cy="645.94" r="0.28"/><circle cx="245.26" cy="651.12" r="0.57"/><circle cx="243.67" cy="642.57" r="0.44"/><circle cx="243.99" cy="645.16" r="0.71"/><circle cx="252.46" cy="651.16" r="0.38"/><circle cx="250.54" cy="652.81" r="0.52"/><circle cx="248.19" cy="646.95" r="0.39"/><circle cx="253.95" cy="652.09" r="0.72"/><circle cx="248.74" cy="645.94" r="0.61"/><circle cx="244.35" cy="651.99" r="0.39"/><circle cx="243.15" cy="643.13" r="0.47"/><circle cx="244.75" cy="649.78" r="0.74"/><circle cx="249.39" cy="646.99" r="0.71"/><circle cx="247.32" cy="647.52" r="0.7"/><circle cx="246.29" cy="650.76" r="0.62"/><circle cx="252.72" cy="650.6" r="0.31"/><circle cx="246.38" cy="651.6" r="0.72"/><circle cx="251.27" cy="648.21" r="0.57"/><circle cx="243.05" cy="648.32" r="0.6"/><circle cx="246.97" cy="652.57" r="0.46"/><circle cx="245.95" cy="646.09" r="0.33"/><circle cx="248.34" cy="649.66" r="0.35"/><circle cx="250.95" cy="651.17" r="0.38"/><circle cx="247.53" cy="652.95" r="0.71"/><circle cx="248.53" cy="645.91" r="0.34"/><circle cx="248" cy="647.26" r="0.67"/><circle cx="244.87" cy="649.42" r="0.68"/><circle cx="229.18" cy="647.09" r="0.6"/><circle cx="237.78" cy="649.24" r="0.37"/><circle cx="236.1" cy="649.47" r="0.52"/><circle cx="228.52" cy="648.77" r="0.47"/><circle cx="237.61" cy="647.42" r="0.27"/><circle cx="236.97" cy="648.93" r="0.68"/><circle cx="232.5" cy="646.79" r="0.54"/><circle cx="231.66" cy="648.47" r="0.47"/><circle cx="233.48" cy="646.82" r="0.33"/><circle cx="235.26" cy="648.13" r="0.35"/><circle cx="228.36" cy="647.79" r="0.39"/><circle cx="232.1" cy="647.44" r="0.46"/><circle cx="227.31" cy="647.93" r="0.38"/><circle cx="231.08" cy="646.95" r="0.72"/><circle cx="234.71" cy="649.35" r="0.46"/><circle cx="237.1" cy="649.16" r="0.68"/><circle cx="230.87" cy="646.96" r="0.33"/><circle cx="235.93" cy="649.12" r="0.56"/><circle cx="233.87" cy="647.5" r="0.44"/><circle cx="236" cy="648.57" r="0.41"/><circle cx="227.8" cy="647.1" r="0.32"/><circle cx="234.78" cy="647.65" r="0.53"/><circle cx="225.45" cy="645.75" r="0.32"/><circle cx="229.8" cy="648.88" r="0.55"/><circle cx="226.54" cy="648.02" r="0.44"/><circle cx="230.28" cy="647.9" r="0.74"/><circle cx="232.93" cy="648" r="0.59"/><circle cx="236.16" cy="648.92" r="0.6"/><circle cx="237.77" cy="648.92" r="0.55"/><circle cx="230.59" cy="648.98" r="0.4"/></g>
<path d="M281.69 544.42 C281.97 544.14 282.98 543.68 283.62 543.64 C284.27 543.59 284.94 543.87 285.55 544.16 C286.17 544.45 286.86 544.93 287.34 545.37 C287.82 545.81 288.17 546.17 288.45 546.78 C288.73 547.4 289.12 548.47 289.03 549.04 C288.94 549.61 288.5 550.04 287.92 550.19 C287.34 550.34 286.21 550.02 285.55 549.93 C284.9 549.84 284.36 550.18 283.96 549.67 C283.56 549.16 283.47 547.61 283.14 546.89 C282.81 546.17 282.23 545.78 281.98 545.37 C281.74 544.96 281.42 544.71 281.69 544.42Z" fill="#aeb0ee"/>
<path d="M278.56 559.16 C278.72 558.84 279.92 558.99 280.73 559 C281.54 559.02 283.11 558.94 283.43 559.27 C283.75 559.59 282.99 560.46 282.66 560.94 C282.33 561.43 281.94 562.2 281.45 562.2 C280.97 562.2 280.25 561.45 279.77 560.94 C279.28 560.44 278.4 559.49 278.56 559.16Z" fill="#b4b4ea"/>
<path d="M325.61 659.95 L324.16 662.36 L323.21 664.5 L322.26 666.38" fill="none" stroke="#a4a6ee" stroke-width="2.3" stroke-linecap="round" stroke-linejoin="round"/>
<path d="M324.03 663 L325.74 663 L327.45 662.63" fill="none" stroke="#a4a6ee" stroke-width="1.5" stroke-linecap="round"/>
<path d="M323.34 655.93 L324.79 657.54 L326.37 659.95" fill="none" stroke="#a4a6ee" stroke-width="1.5" stroke-linecap="round"/>
<path d="M307.02 632.53 L304.37 634.37 L300.99 637.52 L297.62 640.93 L294.96 643.81" fill="none" stroke="#c6c4e0" stroke-width="0.8"/>
<path d="M263.71 562.72 L270.29 570.11" stroke="#c0c0e6" stroke-width="0.9"/>
<path d="M247.56 568.13 L249.46 565.61" stroke="#c0c0e6" stroke-width="0.8" fill="none"/>
<circle cx="303.74" cy="672.92" r="0.5" fill="#c0c0e6"/>
</g>
<rect x="216.5" y="536.5" width="144" height="142.7" fill="none" stroke="#666" stroke-width="0.8"/>
<path d="M213.9 536.4 H216.5" stroke="#666" stroke-width="0.8"/>
<text x="211.3" y="539" font-size="7.3" text-anchor="end" font-weight="normal" fill="#231f20" >15</text>
<path d="M213.9 563.2 H216.5" stroke="#666" stroke-width="0.8"/>
<text x="211.3" y="565.8" font-size="7.3" text-anchor="end" font-weight="normal" fill="#231f20" >10</text>
<path d="M213.9 590 H216.5" stroke="#666" stroke-width="0.8"/>
<text x="211.3" y="592.6" font-size="7.3" text-anchor="end" font-weight="normal" fill="#231f20" >5</text>
<path d="M213.9 616.8 H216.5" stroke="#666" stroke-width="0.8"/>
<text x="211.3" y="619.4" font-size="7.3" text-anchor="end" font-weight="normal" fill="#231f20" >0</text>
<path d="M213.9 643.6 H216.5" stroke="#666" stroke-width="0.8"/>
<text x="211.3" y="646.2" font-size="7.3" text-anchor="end" font-weight="normal" fill="#231f20" >−5</text>
<path d="M213.9 670.4 H216.5" stroke="#666" stroke-width="0.8"/>
<text x="211.3" y="673" font-size="7.3" text-anchor="end" font-weight="normal" fill="#231f20" >−10</text>
<path d="M244.4 679.2 V681.8" stroke="#666" stroke-width="0.8"/>
<text x="244.4" y="691.6" font-size="7.3" text-anchor="middle" font-weight="normal" fill="#231f20" >−10</text>
<path d="M276.05 679.2 V681.8" stroke="#666" stroke-width="0.8"/>
<text x="276.05" y="691.6" font-size="7.3" text-anchor="middle" font-weight="normal" fill="#231f20" >−5</text>
<path d="M307.7 679.2 V681.8" stroke="#666" stroke-width="0.8"/>
<text x="307.7" y="691.6" font-size="7.3" text-anchor="middle" font-weight="normal" fill="#231f20" >0</text>
<path d="M339.35 679.2 V681.8" stroke="#666" stroke-width="0.8"/>
<text x="339.35" y="691.6" font-size="7.3" text-anchor="middle" font-weight="normal" fill="#231f20" >5</text>
<text x="288.5" y="704.8" font-size="8.8" text-anchor="middle" font-weight="normal" fill="#231f20" textLength="27.3" lengthAdjust="spacingAndGlyphs" >UMAP1</text>
<text transform="translate(197.7 607.85) rotate(-90)" font-size="8.8" text-anchor="middle" fill="#231f20" textLength="28" lengthAdjust="spacingAndGlyphs">UMAP2</text>
<text x="245.4" y="530.8" font-size="8.9" text-anchor="start" font-weight="normal" fill="#231f20" textLength="87" lengthAdjust="spacingAndGlyphs" >Random 3,000 genes</text>
<defs><linearGradient id="c4cb" gradientUnits="userSpaceOnUse" x1="0" y1="550" x2="0" y2="591.7"><stop offset="0" stop-color="#9c0d12"/><stop offset="0.25" stop-color="#c8735f"/><stop offset="0.5" stop-color="#d9d7d7"/><stop offset="0.75" stop-color="#8c79c0"/><stop offset="1" stop-color="#1c0a94"/></linearGradient></defs>
<rect x="320.3" y="550" width="8.7" height="41.7" fill="url(#c4cb)"/>
<text x="313.1" y="545.6" font-size="7.2" text-anchor="start" font-weight="normal" fill="#231f20" textLength="43.5" lengthAdjust="spacingAndGlyphs" >AUCell score</text>
<path d="M320.3 551.8 h1.6 M329 551.8 h-1.6" stroke="#fff" stroke-width="0.5" opacity="0.8"/>
<text x="332.9" y="554.3" font-size="7.2" text-anchor="start" font-weight="normal" fill="#231f20" >0.17</text>
<path d="M320.3 561.3 h1.6 M329 561.3 h-1.6" stroke="#fff" stroke-width="0.5" opacity="0.8"/>
<text x="332.9" y="563.8" font-size="7.2" text-anchor="start" font-weight="normal" fill="#231f20" >0.15</text>
<path d="M320.3 570.9 h1.6 M329 570.9 h-1.6" stroke="#fff" stroke-width="0.5" opacity="0.8"/>
<text x="332.9" y="573.4" font-size="7.2" text-anchor="start" font-weight="normal" fill="#231f20" >0.13</text>
<path d="M320.3 580.5 h1.6 M329 580.5 h-1.6" stroke="#fff" stroke-width="0.5" opacity="0.8"/>
<text x="332.9" y="583" font-size="7.2" text-anchor="start" font-weight="normal" fill="#231f20" >0.11</text>
<path d="M320.3 590.2 h1.6 M329 590.2 h-1.6" stroke="#fff" stroke-width="0.5" opacity="0.8"/>
<text x="332.9" y="592.7" font-size="7.2" text-anchor="start" font-weight="normal" fill="#231f20" >0.09</text>
<text x="384.6" y="340.2" font-size="12.5" text-anchor="start" font-weight="bold" fill="#000" >d</text>
<rect x="433.5" y="343.6" width="23.33" height="9.78" fill="#e2eaf3"/>
<rect x="456.83" y="343.6" width="23.33" height="9.78" fill="#8e1a1c"/>
<rect x="480.17" y="343.6" width="23.33" height="9.78" fill="#aec8de"/>
<text x="508" y="351.89" font-size="8.8" fill="#231f20" textLength="33.6" lengthAdjust="spacingAndGlyphs">Platelets</text>
<rect x="433.5" y="353.38" width="23.33" height="9.78" fill="#cc8c8e"/>
<rect x="456.83" y="353.38" width="23.33" height="9.78" fill="#e6edf5"/>
<rect x="480.17" y="353.38" width="23.33" height="9.78" fill="#b2cce0"/>
<text x="508" y="361.66" font-size="8.8" fill="#231f20" textLength="114.6" lengthAdjust="spacingAndGlyphs">PADI4<tspan font-size="6" dy="-3.3">+</tspan><tspan dy="3.3"> immature neutrophils</tspan></text>
<rect x="433.5" y="363.15" width="23.33" height="9.78" fill="#c26e72"/>
<rect x="456.83" y="363.15" width="23.33" height="9.78" fill="#dbe6f0"/>
<rect x="480.17" y="363.15" width="23.33" height="9.78" fill="#bad1e4"/>
<text x="508" y="371.44" font-size="8.8" fill="#231f20" textLength="123.5" lengthAdjust="spacingAndGlyphs">Cycling neutrophil progenitors</text>
<rect x="433.5" y="372.93" width="23.33" height="9.78" fill="#c06a6e"/>
<rect x="456.83" y="372.93" width="23.33" height="9.78" fill="#d8e3ef"/>
<rect x="480.17" y="372.93" width="23.33" height="9.78" fill="#a6c4de"/>
<text x="508" y="381.21" font-size="8.8" fill="#231f20" textLength="111.9" lengthAdjust="spacingAndGlyphs">IL1R2<tspan font-size="6" dy="-3.3">+</tspan><tspan dy="3.3"> immature neutrophils</tspan></text>
<rect x="433.5" y="382.7" width="23.33" height="9.78" fill="#eac8ca"/>
<rect x="456.83" y="382.7" width="23.33" height="9.78" fill="#f6eeee"/>
<rect x="480.17" y="382.7" width="23.33" height="9.78" fill="#c9daea"/>
<text x="508" y="390.99" font-size="8.8" fill="#231f20" textLength="170.7" lengthAdjust="spacingAndGlyphs">MPO<tspan font-size="6" dy="-3.3">+</tspan><tspan dy="3.3"> immature neutrophils or progenitors</tspan></text>
<rect x="433.5" y="392.48" width="23.33" height="9.78" fill="#edd3d4"/>
<rect x="456.83" y="392.48" width="23.33" height="9.78" fill="#e7eef6"/>
<rect x="480.17" y="392.48" width="23.33" height="9.78" fill="#d6e3ef"/>
<text x="508" y="400.76" font-size="8.8" fill="#231f20" textLength="104.6" lengthAdjust="spacingAndGlyphs">Degranulating neutrophils</text>
<rect x="433.5" y="402.25" width="23.33" height="9.78" fill="#ddb0b2"/>
<rect x="456.83" y="402.25" width="23.33" height="9.78" fill="#dce6f1"/>
<rect x="480.17" y="402.25" width="23.33" height="9.78" fill="#dce6f1"/>
<text x="508" y="410.54" font-size="8.8" fill="#231f20" textLength="92.2" lengthAdjust="spacingAndGlyphs">S100A8-9<tspan font-size="5.6" dy="-3.3">hi</tspan><tspan dy="3.3"> neutrophils</tspan></text>
<rect x="433.5" y="412.03" width="23.33" height="9.78" fill="#ccdcec"/>
<rect x="456.83" y="412.03" width="23.33" height="9.78" fill="#ffffff"/>
<rect x="480.17" y="412.03" width="23.33" height="9.78" fill="#e4bec0"/>
<text x="508" y="420.31" font-size="8.8" fill="#231f20" textLength="26" lengthAdjust="spacingAndGlyphs">B cells</text>
<rect x="433.5" y="421.8" width="23.33" height="9.78" fill="#c8daeb"/>
<rect x="456.83" y="421.8" width="23.33" height="9.78" fill="#ffffff"/>
<rect x="480.17" y="421.8" width="23.33" height="9.78" fill="#e2bcbe"/>
<text x="508" y="430.09" font-size="8.8" fill="#231f20" textLength="70" lengthAdjust="spacingAndGlyphs">Naive CD4 T cells</text>
<rect x="433.5" y="431.58" width="23.33" height="9.78" fill="#cfdce9"/>
<rect x="456.83" y="431.58" width="23.33" height="9.78" fill="#f5f9fb"/>
<rect x="480.17" y="431.58" width="23.33" height="9.78" fill="#e0b6b8"/>
<text x="508" y="439.86" font-size="8.8" fill="#231f20" textLength="80.8" lengthAdjust="spacingAndGlyphs">Memory CD4 T cells</text>
<rect x="433.5" y="441.35" width="23.33" height="9.78" fill="#c8daeb"/>
<rect x="456.83" y="441.35" width="23.33" height="9.78" fill="#f3f8fb"/>
<rect x="480.17" y="441.35" width="23.33" height="9.78" fill="#dcb2b4"/>
<text x="508" y="449.64" font-size="8.8" fill="#231f20" textLength="70" lengthAdjust="spacingAndGlyphs">Naive CD8 T cells</text>
<rect x="433.5" y="451.12" width="23.33" height="9.78" fill="#d6e3ee"/>
<rect x="456.83" y="451.12" width="23.33" height="9.78" fill="#eef3f8"/>
<rect x="480.17" y="451.12" width="23.33" height="9.78" fill="#daacae"/>
<text x="508" y="459.41" font-size="8.8" fill="#231f20" textLength="45.2" lengthAdjust="spacingAndGlyphs">CD8 T cells</text>
<rect x="433.5" y="460.9" width="23.33" height="9.78" fill="#e3eaf3"/>
<rect x="456.83" y="460.9" width="23.33" height="9.78" fill="#e6ecf4"/>
<rect x="480.17" y="460.9" width="23.33" height="9.78" fill="#d9aaac"/>
<text x="508" y="469.19" font-size="8.8" fill="#231f20" textLength="32.2" lengthAdjust="spacingAndGlyphs">NK cells</text>
<rect x="433.5" y="470.68" width="23.33" height="9.78" fill="#d0dfed"/>
<rect x="456.83" y="470.68" width="23.33" height="9.78" fill="#e6c3c5"/>
<rect x="480.17" y="470.68" width="23.33" height="9.78" fill="#edd6d7"/>
<text x="508" y="478.96" font-size="8.8" fill="#231f20" textLength="26.8" lengthAdjust="spacingAndGlyphs">HSPCs</text>
<rect x="433.5" y="480.45" width="23.33" height="9.78" fill="#d6e4ef"/>
<rect x="456.83" y="480.45" width="23.33" height="9.78" fill="#f6f5f4"/>
<rect x="480.17" y="480.45" width="23.33" height="9.78" fill="#f4e8e8"/>
<text x="508" y="488.74" font-size="8.8" fill="#231f20" textLength="51.7" lengthAdjust="spacingAndGlyphs">Plasmablasts</text>
<rect x="433.5" y="490.23" width="23.33" height="9.78" fill="#dce7f0"/>
<rect x="456.83" y="490.23" width="23.33" height="9.78" fill="#ffffff"/>
<rect x="480.17" y="490.23" width="23.33" height="9.78" fill="#edd6d7"/>
<text x="508" y="498.51" font-size="8.8" fill="#231f20" textLength="49" lengthAdjust="spacingAndGlyphs">Cycling TNK</text>
<rect x="433.5" y="500" width="23.33" height="9.78" fill="#dae6f0"/>
<rect x="456.83" y="500" width="23.33" height="9.78" fill="#f3e4e4"/>
<rect x="480.17" y="500" width="23.33" height="9.78" fill="#ecd0d1"/>
<text x="508" y="508.29" font-size="8.8" fill="#231f20" textLength="21.4" lengthAdjust="spacingAndGlyphs">pDCs</text>
<rect x="433.5" y="509.78" width="23.33" height="9.78" fill="#d0deec"/>
<rect x="456.83" y="509.78" width="23.33" height="9.78" fill="#e3b9ba"/>
<rect x="480.17" y="509.78" width="23.33" height="9.78" fill="#dae6f0"/>
<text x="508" y="518.06" font-size="8.8" fill="#231f20" textLength="45.2" lengthAdjust="spacingAndGlyphs">Eosinophils</text>
<rect x="433.5" y="519.55" width="23.33" height="9.78" fill="#f0f4f8"/>
<rect x="456.83" y="519.55" width="23.33" height="9.78" fill="#edd5d6"/>
<rect x="480.17" y="519.55" width="23.33" height="9.78" fill="#f0f4f8"/>
<text x="508" y="527.84" font-size="8.8" fill="#231f20" textLength="89.5" lengthAdjust="spacingAndGlyphs">Mast cells/eosinophils</text>
<rect x="433.5" y="529.33" width="23.33" height="9.78" fill="#f6f3f2"/>
<rect x="456.83" y="529.33" width="23.33" height="9.78" fill="#e1e9f2"/>
<rect x="480.17" y="529.33" width="23.33" height="9.78" fill="#edd3d4"/>
<text x="508" y="537.61" font-size="8.8" fill="#231f20" textLength="97.6" lengthAdjust="spacingAndGlyphs">Nonclassical monocytes</text>
<rect x="433.5" y="539.1" width="23.33" height="9.78" fill="#eef3f8"/>
<rect x="456.83" y="539.1" width="23.33" height="9.78" fill="#e1e9f2"/>
<rect x="480.17" y="539.1" width="23.33" height="9.78" fill="#edd2d3"/>
<text x="508" y="547.39" font-size="8.8" fill="#231f20" textLength="20.6" lengthAdjust="spacingAndGlyphs">cDCs</text>
<rect x="433.5" y="548.88" width="23.33" height="9.78" fill="#f2e2e1"/>
<rect x="456.83" y="548.88" width="23.33" height="9.78" fill="#dde7f0"/>
<rect x="480.17" y="548.88" width="23.33" height="9.78" fill="#f5e6e7"/>
<text x="508" y="557.16" font-size="8.8" fill="#231f20" textLength="82.4" lengthAdjust="spacingAndGlyphs">Classical monocytes</text>
<rect x="433.5" y="558.65" width="23.33" height="9.78" fill="#efd9da"/>
<rect x="456.83" y="558.65" width="23.33" height="9.78" fill="#e3ebf3"/>
<rect x="480.17" y="558.65" width="23.33" height="9.78" fill="#e6edf5"/>
<text x="508" y="566.94" font-size="8.8" fill="#231f20" textLength="94.3" lengthAdjust="spacingAndGlyphs">Apoptosing neutrophils</text>
<rect x="433.5" y="568.43" width="23.33" height="9.78" fill="#f2e3e2"/>
<rect x="456.83" y="568.43" width="23.33" height="9.78" fill="#e6edf5"/>
<rect x="480.17" y="568.43" width="23.33" height="9.78" fill="#eaeef3"/>
<text x="508" y="576.71" font-size="8.8" fill="#231f20" textLength="76" lengthAdjust="spacingAndGlyphs">Mature neutrophils</text>
<path d="M433.5 343.6H503.5 M433.5 353.38H503.5 M433.5 363.15H503.5 M433.5 372.93H503.5 M433.5 382.7H503.5 M433.5 392.48H503.5 M433.5 402.25H503.5 M433.5 412.03H503.5 M433.5 421.8H503.5 M433.5 431.58H503.5 M433.5 441.35H503.5 M433.5 451.12H503.5 M433.5 460.9H503.5 M433.5 470.68H503.5 M433.5 480.45H503.5 M433.5 490.23H503.5 M433.5 500H503.5 M433.5 509.78H503.5 M433.5 519.55H503.5 M433.5 529.33H503.5 M433.5 539.1H503.5 M433.5 548.88H503.5 M433.5 558.65H503.5 M433.5 568.43H503.5 M433.5 578.2H503.5 M433.5 343.6V578.2 M456.83 343.6V578.2 M480.17 343.6V578.2 M503.5 343.6V578.2" stroke="#9e9e9e" stroke-width="0.9" fill="none"/>
<path d="M433.5 368.04H429.4V377.81H433.5" stroke="#111" stroke-width="0.9" fill="none"/>
<path d="M433.5 358.26H427.3V372.93H429.4" stroke="#111" stroke-width="0.9" fill="none"/>
<path d="M433.5 397.36H429.4V407.14H433.5" stroke="#111" stroke-width="0.9" fill="none"/>
<path d="M433.5 387.59H423.9V402.25H429.4" stroke="#111" stroke-width="0.9" fill="none"/>
<path d="M427.3 365.59H416.6V394.92H423.9" stroke="#111" stroke-width="0.9" fill="none"/>
<path d="M433.5 416.91H432.2V426.69H433.5" stroke="#111" stroke-width="0.9" fill="none"/>
<path d="M433.5 436.46H432.4V446.24H433.5" stroke="#111" stroke-width="0.9" fill="none"/>
<path d="M432.2 421.8H431.3V441.35H432.4" stroke="#111" stroke-width="0.9" fill="none"/>
<path d="M433.5 456.01H431V465.79H433.5" stroke="#111" stroke-width="0.9" fill="none"/>
<path d="M431.3 431.58H427.3V460.9H431" stroke="#111" stroke-width="0.9" fill="none"/>
<path d="M433.5 495.11H430.7V504.89H433.5" stroke="#111" stroke-width="0.9" fill="none"/>
<path d="M433.5 485.34H429V500H430.7" stroke="#111" stroke-width="0.9" fill="none"/>
<path d="M433.5 475.56H424.6V492.67H429" stroke="#111" stroke-width="0.9" fill="none"/>
<path d="M427.3 446.24H420.5V484.12H424.6" stroke="#111" stroke-width="0.9" fill="none"/>
<path d="M433.5 514.66H425.6V524.44H433.5" stroke="#111" stroke-width="0.9" fill="none"/>
<path d="M433.5 534.21H430.7V543.99H433.5" stroke="#111" stroke-width="0.9" fill="none"/>
<path d="M433.5 563.54H431.4V573.31H433.5" stroke="#111" stroke-width="0.9" fill="none"/>
<path d="M433.5 553.76H427.7V568.42H431.4" stroke="#111" stroke-width="0.9" fill="none"/>
<path d="M430.7 539.1H422.2V561.09H427.7" stroke="#111" stroke-width="0.9" fill="none"/>
<path d="M425.6 519.55H414V550.1H422.2" stroke="#111" stroke-width="0.9" fill="none"/>
<path d="M420.5 465.18H413.2V534.82H414" stroke="#111" stroke-width="0.9" fill="none"/>
<path d="M416.6 380.26H394.5V500H413.2" stroke="#111" stroke-width="0.9" fill="none"/>
<path d="M433.5 348.49H384.6V440.13H394.5" stroke="#111" stroke-width="0.9" fill="none"/>
<text transform="translate(450.67 584.5) rotate(-45)" font-size="8.4" text-anchor="end" fill="#231f20">CTS1</text>
<text transform="translate(474 584.5) rotate(-45)" font-size="8.4" text-anchor="end" fill="#231f20">CTS2</text>
<text transform="translate(497.33 584.5) rotate(-45)" font-size="8.4" text-anchor="end" fill="#231f20">CTS3</text>
<defs><linearGradient id="dcb" gradientUnits="userSpaceOnUse" x1="0" y1="480.9" x2="0" y2="576.2"><stop offset="0" stop-color="#a51b24"/><stop offset="0.25" stop-color="#d98f8f"/><stop offset="0.5" stop-color="#ffffff"/><stop offset="0.75" stop-color="#93b7d7"/><stop offset="1" stop-color="#2f6fae"/></linearGradient></defs>
<rect x="659.9" y="480.9" width="6.1" height="95.3" fill="url(#dcb)"/>
<path d="M666 481.3 h2.6" stroke="#555" stroke-width="0.7"/>
<text x="673.6" y="483.9" font-size="7.4" text-anchor="start" font-weight="normal" fill="#231f20" >4</text>
<path d="M666 505 h2.6" stroke="#555" stroke-width="0.7"/>
<text x="673.6" y="507.6" font-size="7.4" text-anchor="start" font-weight="normal" fill="#231f20" >2</text>
<path d="M666 528.6 h2.6" stroke="#555" stroke-width="0.7"/>
<text x="673.6" y="531.2" font-size="7.4" text-anchor="start" font-weight="normal" fill="#231f20" >0</text>
<path d="M666 552 h2.6" stroke="#555" stroke-width="0.7"/>
<text x="673.6" y="554.6" font-size="7.4" text-anchor="start" font-weight="normal" fill="#231f20" >−2</text>
<path d="M666 575.8 h2.6" stroke="#555" stroke-width="0.7"/>
<text x="673.6" y="578.4" font-size="7.4" text-anchor="start" font-weight="normal" fill="#231f20" >−4</text>
<text transform="translate(655.2 530) rotate(-90)" font-size="8.2" text-anchor="middle" fill="#231f20" textLength="86" lengthAdjust="spacingAndGlyphs">AUCell score (scaled)</text>
</svg>
</body></html>
